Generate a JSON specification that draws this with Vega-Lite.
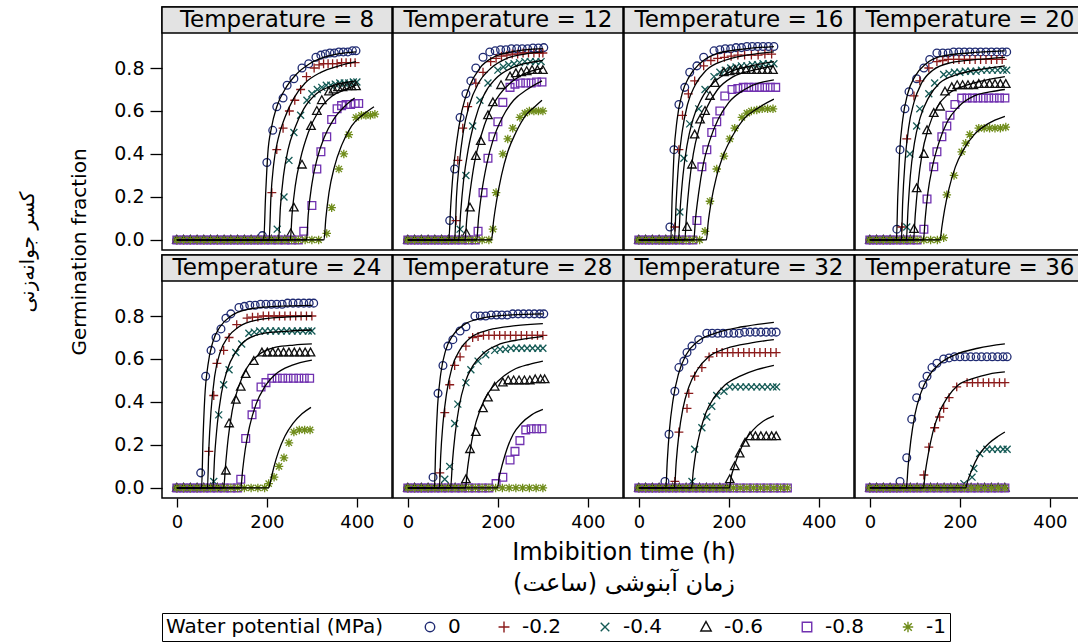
{
"$schema": "https://vega.github.io/schema/vega-lite/v6.json",
"padding": {"left": 18, "top": 5, "right": 0, "bottom": 0},
"background": "white",
"data": {"values": [
{"T":8,"h":"Temperature = 8"},{"T":12,"h":"Temperature = 12"},{"T":16,"h":"Temperature = 16"},{"T":20,"h":"Temperature = 20"},{"T":24,"h":"Temperature = 24"},{"T":28,"h":"Temperature = 28"},{"T":32,"h":"Temperature = 32"},{"T":36,"h":"Temperature = 36"},

{"T":8,"w":0,"t":0,"g":0},{"T":8,"w":0,"t":15,"g":0},{"T":8,"w":0,"t":30,"g":0},{"T":8,"w":0,"t":45,"g":0},{"T":8,"w":0,"t":60,"g":0},{"T":8,"w":0,"t":75,"g":0},{"T":8,"w":0,"t":90,"g":0},{"T":8,"w":0,"t":105,"g":0},{"T":8,"w":0,"t":120,"g":0},{"T":8,"w":0,"t":135,"g":0},{"T":8,"w":0,"t":150,"g":0},{"T":8,"w":0,"t":165,"g":0},{"T":8,"w":0,"t":180,"g":0},
{"T":8,"w":0,"t":190,"g":0.02},{"T":8,"w":0,"t":200,"g":0.36},{"T":8,"w":0,"t":213,"g":0.51},{"T":8,"w":0,"t":222,"g":0.62},{"T":8,"w":0,"t":236,"g":0.66},{"T":8,"w":0,"t":245,"g":0.72},{"T":8,"w":0,"t":260,"g":0.75},{"T":8,"w":0,"t":278,"g":0.8},{"T":8,"w":0,"t":293,"g":0.82},{"T":8,"w":0,"t":309,"g":0.85},{"T":8,"w":0,"t":320,"g":0.86},{"T":8,"w":0,"t":330,"g":0.865},{"T":8,"w":0,"t":340,"g":0.87},{"T":8,"w":0,"t":350,"g":0.87},{"T":8,"w":0,"t":360,"g":0.875},{"T":8,"w":0,"t":370,"g":0.875},{"T":8,"w":0,"t":380,"g":0.875},{"T":8,"w":0,"t":390,"g":0.88},{"T":8,"w":0,"t":398,"g":0.88},
{"T":8,"w":-0.2,"t":0,"g":0},{"T":8,"w":-0.2,"t":15,"g":0},{"T":8,"w":-0.2,"t":30,"g":0},{"T":8,"w":-0.2,"t":45,"g":0},{"T":8,"w":-0.2,"t":60,"g":0},{"T":8,"w":-0.2,"t":75,"g":0},{"T":8,"w":-0.2,"t":90,"g":0},{"T":8,"w":-0.2,"t":105,"g":0},{"T":8,"w":-0.2,"t":120,"g":0},{"T":8,"w":-0.2,"t":135,"g":0},{"T":8,"w":-0.2,"t":150,"g":0},{"T":8,"w":-0.2,"t":165,"g":0},{"T":8,"w":-0.2,"t":180,"g":0},{"T":8,"w":-0.2,"t":195,"g":0},
{"T":8,"w":-0.2,"t":211,"g":0.22},{"T":8,"w":-0.2,"t":222,"g":0.42},{"T":8,"w":-0.2,"t":236,"g":0.52},{"T":8,"w":-0.2,"t":250,"g":0.6},{"T":8,"w":-0.2,"t":262,"g":0.65},{"T":8,"w":-0.2,"t":275,"g":0.7},{"T":8,"w":-0.2,"t":288,"g":0.76},{"T":8,"w":-0.2,"t":305,"g":0.8},{"T":8,"w":-0.2,"t":316,"g":0.815},{"T":8,"w":-0.2,"t":326,"g":0.82},{"T":8,"w":-0.2,"t":336,"g":0.82},{"T":8,"w":-0.2,"t":346,"g":0.82},{"T":8,"w":-0.2,"t":356,"g":0.82},{"T":8,"w":-0.2,"t":366,"g":0.825},{"T":8,"w":-0.2,"t":376,"g":0.825},{"T":8,"w":-0.2,"t":386,"g":0.825},{"T":8,"w":-0.2,"t":396,"g":0.825},
{"T":8,"w":-0.4,"t":0,"g":0},{"T":8,"w":-0.4,"t":15,"g":0},{"T":8,"w":-0.4,"t":30,"g":0},{"T":8,"w":-0.4,"t":45,"g":0},{"T":8,"w":-0.4,"t":60,"g":0},{"T":8,"w":-0.4,"t":75,"g":0},{"T":8,"w":-0.4,"t":90,"g":0},{"T":8,"w":-0.4,"t":105,"g":0},{"T":8,"w":-0.4,"t":120,"g":0},{"T":8,"w":-0.4,"t":135,"g":0},{"T":8,"w":-0.4,"t":150,"g":0},{"T":8,"w":-0.4,"t":165,"g":0},{"T":8,"w":-0.4,"t":180,"g":0},{"T":8,"w":-0.4,"t":195,"g":0},{"T":8,"w":-0.4,"t":210,"g":0},
{"T":8,"w":-0.4,"t":223,"g":0.05},{"T":8,"w":-0.4,"t":238,"g":0.2},{"T":8,"w":-0.4,"t":249,"g":0.37},{"T":8,"w":-0.4,"t":260,"g":0.5},{"T":8,"w":-0.4,"t":275,"g":0.58},{"T":8,"w":-0.4,"t":289,"g":0.65},{"T":8,"w":-0.4,"t":300,"g":0.68},{"T":8,"w":-0.4,"t":312,"g":0.7},{"T":8,"w":-0.4,"t":322,"g":0.71},{"T":8,"w":-0.4,"t":332,"g":0.72},{"T":8,"w":-0.4,"t":342,"g":0.72},{"T":8,"w":-0.4,"t":352,"g":0.725},{"T":8,"w":-0.4,"t":362,"g":0.73},{"T":8,"w":-0.4,"t":372,"g":0.73},{"T":8,"w":-0.4,"t":382,"g":0.73},{"T":8,"w":-0.4,"t":392,"g":0.735},{"T":8,"w":-0.4,"t":400,"g":0.735},
{"T":8,"w":-0.6,"t":0,"g":0},{"T":8,"w":-0.6,"t":15,"g":0},{"T":8,"w":-0.6,"t":30,"g":0},{"T":8,"w":-0.6,"t":45,"g":0},{"T":8,"w":-0.6,"t":60,"g":0},{"T":8,"w":-0.6,"t":75,"g":0},{"T":8,"w":-0.6,"t":90,"g":0},{"T":8,"w":-0.6,"t":105,"g":0},{"T":8,"w":-0.6,"t":120,"g":0},{"T":8,"w":-0.6,"t":135,"g":0},{"T":8,"w":-0.6,"t":150,"g":0},{"T":8,"w":-0.6,"t":165,"g":0},{"T":8,"w":-0.6,"t":180,"g":0},{"T":8,"w":-0.6,"t":195,"g":0},{"T":8,"w":-0.6,"t":210,"g":0},{"T":8,"w":-0.6,"t":225,"g":0},{"T":8,"w":-0.6,"t":240,"g":0},
{"T":8,"w":-0.6,"t":253,"g":0.03},{"T":8,"w":-0.6,"t":260,"g":0.15},{"T":8,"w":-0.6,"t":278,"g":0.35},{"T":8,"w":-0.6,"t":298,"g":0.53},{"T":8,"w":-0.6,"t":311,"g":0.6},{"T":8,"w":-0.6,"t":322,"g":0.65},{"T":8,"w":-0.6,"t":338,"g":0.69},{"T":8,"w":-0.6,"t":348,"g":0.7},{"T":8,"w":-0.6,"t":358,"g":0.71},{"T":8,"w":-0.6,"t":368,"g":0.71},{"T":8,"w":-0.6,"t":378,"g":0.715},{"T":8,"w":-0.6,"t":388,"g":0.715},{"T":8,"w":-0.6,"t":398,"g":0.715},
{"T":8,"w":-0.8,"t":0,"g":0},{"T":8,"w":-0.8,"t":15,"g":0},{"T":8,"w":-0.8,"t":30,"g":0},{"T":8,"w":-0.8,"t":45,"g":0},{"T":8,"w":-0.8,"t":60,"g":0},{"T":8,"w":-0.8,"t":75,"g":0},{"T":8,"w":-0.8,"t":90,"g":0},{"T":8,"w":-0.8,"t":105,"g":0},{"T":8,"w":-0.8,"t":120,"g":0},{"T":8,"w":-0.8,"t":135,"g":0},{"T":8,"w":-0.8,"t":150,"g":0},{"T":8,"w":-0.8,"t":165,"g":0},{"T":8,"w":-0.8,"t":180,"g":0},{"T":8,"w":-0.8,"t":195,"g":0},{"T":8,"w":-0.8,"t":210,"g":0},{"T":8,"w":-0.8,"t":225,"g":0},{"T":8,"w":-0.8,"t":240,"g":0},{"T":8,"w":-0.8,"t":255,"g":0},{"T":8,"w":-0.8,"t":270,"g":0},
{"T":8,"w":-0.8,"t":282,"g":0.04},{"T":8,"w":-0.8,"t":300,"g":0.16},{"T":8,"w":-0.8,"t":311,"g":0.33},{"T":8,"w":-0.8,"t":320,"g":0.41},{"T":8,"w":-0.8,"t":333,"g":0.48},{"T":8,"w":-0.8,"t":344,"g":0.56},{"T":8,"w":-0.8,"t":356,"g":0.61},{"T":8,"w":-0.8,"t":366,"g":0.625},{"T":8,"w":-0.8,"t":376,"g":0.63},{"T":8,"w":-0.8,"t":386,"g":0.63},{"T":8,"w":-0.8,"t":396,"g":0.635},{"T":8,"w":-0.8,"t":404,"g":0.635},
{"T":8,"w":-1,"t":0,"g":0},{"T":8,"w":-1,"t":15,"g":0},{"T":8,"w":-1,"t":30,"g":0},{"T":8,"w":-1,"t":45,"g":0},{"T":8,"w":-1,"t":60,"g":0},{"T":8,"w":-1,"t":75,"g":0},{"T":8,"w":-1,"t":90,"g":0},{"T":8,"w":-1,"t":105,"g":0},{"T":8,"w":-1,"t":120,"g":0},{"T":8,"w":-1,"t":135,"g":0},{"T":8,"w":-1,"t":150,"g":0},{"T":8,"w":-1,"t":165,"g":0},{"T":8,"w":-1,"t":180,"g":0},{"T":8,"w":-1,"t":195,"g":0},{"T":8,"w":-1,"t":210,"g":0},{"T":8,"w":-1,"t":225,"g":0},{"T":8,"w":-1,"t":240,"g":0},{"T":8,"w":-1,"t":255,"g":0},{"T":8,"w":-1,"t":270,"g":0},{"T":8,"w":-1,"t":285,"g":0},{"T":8,"w":-1,"t":300,"g":0},{"T":8,"w":-1,"t":315,"g":0},
{"T":8,"w":-1,"t":333,"g":0.03},{"T":8,"w":-1,"t":344,"g":0.15},{"T":8,"w":-1,"t":360,"g":0.33},{"T":8,"w":-1,"t":371,"g":0.4},{"T":8,"w":-1,"t":382,"g":0.49},{"T":8,"w":-1,"t":398,"g":0.57},{"T":8,"w":-1,"t":410,"g":0.58},{"T":8,"w":-1,"t":420,"g":0.58},{"T":8,"w":-1,"t":430,"g":0.58},{"T":8,"w":-1,"t":440,"g":0.585},

{"T":8,"w":0,"t":0,"c":0},{"T":8,"w":0,"t":193,"c":0},{"T":8,"w":0,"t":197,"c":0.2},{"T":8,"w":0,"t":202,"c":0.4},{"T":8,"w":0,"t":210,"c":0.52},{"T":8,"w":0,"t":222,"c":0.62},{"T":8,"w":0,"t":240,"c":0.7},{"T":8,"w":0,"t":265,"c":0.77},{"T":8,"w":0,"t":295,"c":0.82},{"T":8,"w":0,"t":335,"c":0.855},{"T":8,"w":0,"t":398,"c":0.875},
{"T":8,"w":-0.2,"t":0,"c":0},{"T":8,"w":-0.2,"t":205,"c":0},{"T":8,"w":-0.2,"t":209,"c":0.2},{"T":8,"w":-0.2,"t":215,"c":0.35},{"T":8,"w":-0.2,"t":225,"c":0.47},{"T":8,"w":-0.2,"t":240,"c":0.57},{"T":8,"w":-0.2,"t":260,"c":0.66},{"T":8,"w":-0.2,"t":285,"c":0.73},{"T":8,"w":-0.2,"t":320,"c":0.78},{"T":8,"w":-0.2,"t":360,"c":0.81},{"T":8,"w":-0.2,"t":398,"c":0.83},
{"T":8,"w":-0.4,"t":0,"c":0},{"T":8,"w":-0.4,"t":226,"c":0},{"T":8,"w":-0.4,"t":230,"c":0.15},{"T":8,"w":-0.4,"t":237,"c":0.3},{"T":8,"w":-0.4,"t":247,"c":0.42},{"T":8,"w":-0.4,"t":262,"c":0.52},{"T":8,"w":-0.4,"t":282,"c":0.61},{"T":8,"w":-0.4,"t":310,"c":0.68},{"T":8,"w":-0.4,"t":350,"c":0.72},{"T":8,"w":-0.4,"t":398,"c":0.74},
{"T":8,"w":-0.6,"t":0,"c":0},{"T":8,"w":-0.6,"t":252,"c":0},{"T":8,"w":-0.6,"t":256,"c":0.12},{"T":8,"w":-0.6,"t":263,"c":0.25},{"T":8,"w":-0.6,"t":275,"c":0.38},{"T":8,"w":-0.6,"t":292,"c":0.5},{"T":8,"w":-0.6,"t":315,"c":0.6},{"T":8,"w":-0.6,"t":345,"c":0.67},{"T":8,"w":-0.6,"t":375,"c":0.7},{"T":8,"w":-0.6,"t":398,"c":0.72},
{"T":8,"w":-0.8,"t":0,"c":0},{"T":8,"w":-0.8,"t":288,"c":0},{"T":8,"w":-0.8,"t":292,"c":0.12},{"T":8,"w":-0.8,"t":300,"c":0.26},{"T":8,"w":-0.8,"t":312,"c":0.38},{"T":8,"w":-0.8,"t":328,"c":0.48},{"T":8,"w":-0.8,"t":348,"c":0.56},{"T":8,"w":-0.8,"t":372,"c":0.62},{"T":8,"w":-0.8,"t":395,"c":0.66},
{"T":8,"w":-1,"t":0,"c":0},{"T":8,"w":-1,"t":327,"c":0},{"T":8,"w":-1,"t":331,"c":0.1},{"T":8,"w":-1,"t":338,"c":0.22},{"T":8,"w":-1,"t":350,"c":0.34},{"T":8,"w":-1,"t":366,"c":0.44},{"T":8,"w":-1,"t":388,"c":0.53},{"T":8,"w":-1,"t":412,"c":0.58},{"T":8,"w":-1,"t":438,"c":0.62},

{"T":12,"w":0,"t":0,"g":0},{"T":12,"w":0,"t":15,"g":0},{"T":12,"w":0,"t":30,"g":0},{"T":12,"w":0,"t":45,"g":0},{"T":12,"w":0,"t":60,"g":0},{"T":12,"w":0,"t":75,"g":0},{"T":12,"w":0,"t":90,"g":0},
{"T":12,"w":0,"t":93,"g":0.09},{"T":12,"w":0,"t":104,"g":0.33},{"T":12,"w":0,"t":116,"g":0.57},{"T":12,"w":0,"t":129,"g":0.68},{"T":12,"w":0,"t":140,"g":0.74},{"T":12,"w":0,"t":151,"g":0.8},{"T":12,"w":0,"t":167,"g":0.85},{"T":12,"w":0,"t":182,"g":0.875},{"T":12,"w":0,"t":194,"g":0.88},{"T":12,"w":0,"t":206,"g":0.885},{"T":12,"w":0,"t":218,"g":0.885},{"T":12,"w":0,"t":230,"g":0.89},{"T":12,"w":0,"t":242,"g":0.89},{"T":12,"w":0,"t":254,"g":0.89},{"T":12,"w":0,"t":266,"g":0.89},{"T":12,"w":0,"t":278,"g":0.893},{"T":12,"w":0,"t":290,"g":0.893},{"T":12,"w":0,"t":302,"g":0.895},
{"T":12,"w":-0.2,"t":0,"g":0},{"T":12,"w":-0.2,"t":15,"g":0},{"T":12,"w":-0.2,"t":30,"g":0},{"T":12,"w":-0.2,"t":45,"g":0},{"T":12,"w":-0.2,"t":60,"g":0},{"T":12,"w":-0.2,"t":75,"g":0},{"T":12,"w":-0.2,"t":90,"g":0},{"T":12,"w":-0.2,"t":105,"g":0},
{"T":12,"w":-0.2,"t":107,"g":0.09},{"T":12,"w":-0.2,"t":111,"g":0.37},{"T":12,"w":-0.2,"t":122,"g":0.52},{"T":12,"w":-0.2,"t":133,"g":0.62},{"T":12,"w":-0.2,"t":151,"g":0.73},{"T":12,"w":-0.2,"t":167,"g":0.78},{"T":12,"w":-0.2,"t":184,"g":0.83},{"T":12,"w":-0.2,"t":196,"g":0.845},{"T":12,"w":-0.2,"t":208,"g":0.855},{"T":12,"w":-0.2,"t":220,"g":0.86},{"T":12,"w":-0.2,"t":232,"g":0.865},{"T":12,"w":-0.2,"t":244,"g":0.865},{"T":12,"w":-0.2,"t":256,"g":0.87},{"T":12,"w":-0.2,"t":268,"g":0.87},{"T":12,"w":-0.2,"t":280,"g":0.87},{"T":12,"w":-0.2,"t":292,"g":0.87},{"T":12,"w":-0.2,"t":300,"g":0.87},
{"T":12,"w":-0.4,"t":0,"g":0},{"T":12,"w":-0.4,"t":15,"g":0},{"T":12,"w":-0.4,"t":30,"g":0},{"T":12,"w":-0.4,"t":45,"g":0},{"T":12,"w":-0.4,"t":60,"g":0},{"T":12,"w":-0.4,"t":75,"g":0},{"T":12,"w":-0.4,"t":90,"g":0},{"T":12,"w":-0.4,"t":105,"g":0},
{"T":12,"w":-0.4,"t":116,"g":0.05},{"T":12,"w":-0.4,"t":129,"g":0.3},{"T":12,"w":-0.4,"t":144,"g":0.53},{"T":12,"w":-0.4,"t":160,"g":0.65},{"T":12,"w":-0.4,"t":178,"g":0.73},{"T":12,"w":-0.4,"t":200,"g":0.79},{"T":12,"w":-0.4,"t":212,"g":0.805},{"T":12,"w":-0.4,"t":224,"g":0.815},{"T":12,"w":-0.4,"t":236,"g":0.82},{"T":12,"w":-0.4,"t":248,"g":0.825},{"T":12,"w":-0.4,"t":260,"g":0.83},{"T":12,"w":-0.4,"t":272,"g":0.83},{"T":12,"w":-0.4,"t":284,"g":0.83},{"T":12,"w":-0.4,"t":296,"g":0.83},
{"T":12,"w":-0.6,"t":0,"g":0},{"T":12,"w":-0.6,"t":15,"g":0},{"T":12,"w":-0.6,"t":30,"g":0},{"T":12,"w":-0.6,"t":45,"g":0},{"T":12,"w":-0.6,"t":60,"g":0},{"T":12,"w":-0.6,"t":75,"g":0},{"T":12,"w":-0.6,"t":90,"g":0},{"T":12,"w":-0.6,"t":105,"g":0},{"T":12,"w":-0.6,"t":120,"g":0},{"T":12,"w":-0.6,"t":130,"g":0.03},
{"T":12,"w":-0.6,"t":138,"g":0.15},{"T":12,"w":-0.6,"t":151,"g":0.39},{"T":12,"w":-0.6,"t":162,"g":0.46},{"T":12,"w":-0.6,"t":178,"g":0.58},{"T":12,"w":-0.6,"t":189,"g":0.64},{"T":12,"w":-0.6,"t":207,"g":0.72},{"T":12,"w":-0.6,"t":227,"g":0.76},{"T":12,"w":-0.6,"t":240,"g":0.775},{"T":12,"w":-0.6,"t":252,"g":0.78},{"T":12,"w":-0.6,"t":264,"g":0.785},{"T":12,"w":-0.6,"t":276,"g":0.79},{"T":12,"w":-0.6,"t":288,"g":0.79},{"T":12,"w":-0.6,"t":300,"g":0.79},
{"T":12,"w":-0.8,"t":0,"g":0},{"T":12,"w":-0.8,"t":15,"g":0},{"T":12,"w":-0.8,"t":30,"g":0},{"T":12,"w":-0.8,"t":45,"g":0},{"T":12,"w":-0.8,"t":60,"g":0},{"T":12,"w":-0.8,"t":75,"g":0},{"T":12,"w":-0.8,"t":90,"g":0},{"T":12,"w":-0.8,"t":105,"g":0},{"T":12,"w":-0.8,"t":120,"g":0},{"T":12,"w":-0.8,"t":135,"g":0},{"T":12,"w":-0.8,"t":150,"g":0},
{"T":12,"w":-0.8,"t":156,"g":0.04},{"T":12,"w":-0.8,"t":167,"g":0.22},{"T":12,"w":-0.8,"t":178,"g":0.38},{"T":12,"w":-0.8,"t":189,"g":0.48},{"T":12,"w":-0.8,"t":200,"g":0.55},{"T":12,"w":-0.8,"t":211,"g":0.64},{"T":12,"w":-0.8,"t":227,"g":0.71},{"T":12,"w":-0.8,"t":238,"g":0.725},{"T":12,"w":-0.8,"t":250,"g":0.73},{"T":12,"w":-0.8,"t":262,"g":0.73},{"T":12,"w":-0.8,"t":274,"g":0.73},{"T":12,"w":-0.8,"t":286,"g":0.735},{"T":12,"w":-0.8,"t":298,"g":0.735},
{"T":12,"w":-1,"t":0,"g":0},{"T":12,"w":-1,"t":15,"g":0},{"T":12,"w":-1,"t":30,"g":0},{"T":12,"w":-1,"t":45,"g":0},{"T":12,"w":-1,"t":60,"g":0},{"T":12,"w":-1,"t":75,"g":0},{"T":12,"w":-1,"t":90,"g":0},{"T":12,"w":-1,"t":105,"g":0},{"T":12,"w":-1,"t":120,"g":0},{"T":12,"w":-1,"t":135,"g":0},{"T":12,"w":-1,"t":150,"g":0},{"T":12,"w":-1,"t":165,"g":0},{"T":12,"w":-1,"t":180,"g":0},
{"T":12,"w":-1,"t":189,"g":0.05},{"T":12,"w":-1,"t":196,"g":0.22},{"T":12,"w":-1,"t":211,"g":0.4},{"T":12,"w":-1,"t":222,"g":0.47},{"T":12,"w":-1,"t":233,"g":0.52},{"T":12,"w":-1,"t":249,"g":0.57},{"T":12,"w":-1,"t":260,"g":0.59},{"T":12,"w":-1,"t":270,"g":0.6},{"T":12,"w":-1,"t":280,"g":0.6},{"T":12,"w":-1,"t":290,"g":0.6},{"T":12,"w":-1,"t":300,"g":0.6},

{"T":12,"w":0,"t":0,"c":0},{"T":12,"w":0,"t":91,"c":0},{"T":12,"w":0,"t":95,"c":0.15},{"T":12,"w":0,"t":100,"c":0.3},{"T":12,"w":0,"t":108,"c":0.45},{"T":12,"w":0,"t":120,"c":0.6},{"T":12,"w":0,"t":138,"c":0.72},{"T":12,"w":0,"t":160,"c":0.8},{"T":12,"w":0,"t":190,"c":0.85},{"T":12,"w":0,"t":230,"c":0.875},{"T":12,"w":0,"t":300,"c":0.89},
{"T":12,"w":-0.2,"t":0,"c":0},{"T":12,"w":-0.2,"t":104,"c":0},{"T":12,"w":-0.2,"t":108,"c":0.2},{"T":12,"w":-0.2,"t":114,"c":0.35},{"T":12,"w":-0.2,"t":123,"c":0.5},{"T":12,"w":-0.2,"t":137,"c":0.63},{"T":12,"w":-0.2,"t":157,"c":0.73},{"T":12,"w":-0.2,"t":185,"c":0.8},{"T":12,"w":-0.2,"t":220,"c":0.845},{"T":12,"w":-0.2,"t":260,"c":0.865},{"T":12,"w":-0.2,"t":300,"c":0.875},
{"T":12,"w":-0.4,"t":0,"c":0},{"T":12,"w":-0.4,"t":113,"c":0},{"T":12,"w":-0.4,"t":117,"c":0.12},{"T":12,"w":-0.4,"t":124,"c":0.28},{"T":12,"w":-0.4,"t":134,"c":0.42},{"T":12,"w":-0.4,"t":148,"c":0.55},{"T":12,"w":-0.4,"t":168,"c":0.67},{"T":12,"w":-0.4,"t":195,"c":0.75},{"T":12,"w":-0.4,"t":230,"c":0.8},{"T":12,"w":-0.4,"t":300,"c":0.835},
{"T":12,"w":-0.6,"t":0,"c":0},{"T":12,"w":-0.6,"t":127,"c":0},{"T":12,"w":-0.6,"t":131,"c":0.1},{"T":12,"w":-0.6,"t":138,"c":0.22},{"T":12,"w":-0.6,"t":148,"c":0.36},{"T":12,"w":-0.6,"t":162,"c":0.48},{"T":12,"w":-0.6,"t":180,"c":0.59},{"T":12,"w":-0.6,"t":205,"c":0.68},{"T":12,"w":-0.6,"t":240,"c":0.75},{"T":12,"w":-0.6,"t":300,"c":0.8},
{"T":12,"w":-0.8,"t":0,"c":0},{"T":12,"w":-0.8,"t":153,"c":0},{"T":12,"w":-0.8,"t":157,"c":0.1},{"T":12,"w":-0.8,"t":164,"c":0.22},{"T":12,"w":-0.8,"t":175,"c":0.35},{"T":12,"w":-0.8,"t":190,"c":0.47},{"T":12,"w":-0.8,"t":210,"c":0.57},{"T":12,"w":-0.8,"t":235,"c":0.65},{"T":12,"w":-0.8,"t":265,"c":0.7},{"T":12,"w":-0.8,"t":298,"c":0.74},
{"T":12,"w":-1,"t":0,"c":0},{"T":12,"w":-1,"t":186,"c":0},{"T":12,"w":-1,"t":190,"c":0.08},{"T":12,"w":-1,"t":197,"c":0.18},{"T":12,"w":-1,"t":208,"c":0.3},{"T":12,"w":-1,"t":222,"c":0.41},{"T":12,"w":-1,"t":240,"c":0.5},{"T":12,"w":-1,"t":262,"c":0.58},{"T":12,"w":-1,"t":282,"c":0.62},{"T":12,"w":-1,"t":298,"c":0.65},

{"T":16,"w":0,"t":0,"g":0},{"T":16,"w":0,"t":15,"g":0},{"T":16,"w":0,"t":30,"g":0},{"T":16,"w":0,"t":45,"g":0},{"T":16,"w":0,"t":60,"g":0},
{"T":16,"w":0,"t":69,"g":0.06},{"T":16,"w":0,"t":78,"g":0.42},{"T":16,"w":0,"t":89,"g":0.63},{"T":16,"w":0,"t":102,"g":0.71},{"T":16,"w":0,"t":113,"g":0.78},{"T":16,"w":0,"t":129,"g":0.81},{"T":16,"w":0,"t":144,"g":0.85},{"T":16,"w":0,"t":167,"g":0.88},{"T":16,"w":0,"t":180,"g":0.885},{"T":16,"w":0,"t":192,"g":0.89},{"T":16,"w":0,"t":204,"g":0.89},{"T":16,"w":0,"t":216,"g":0.895},{"T":16,"w":0,"t":228,"g":0.895},{"T":16,"w":0,"t":240,"g":0.9},{"T":16,"w":0,"t":252,"g":0.9},{"T":16,"w":0,"t":264,"g":0.9},{"T":16,"w":0,"t":276,"g":0.9},{"T":16,"w":0,"t":288,"g":0.9},{"T":16,"w":0,"t":300,"g":0.9},
{"T":16,"w":-0.2,"t":0,"g":0},{"T":16,"w":-0.2,"t":15,"g":0},{"T":16,"w":-0.2,"t":30,"g":0},{"T":16,"w":-0.2,"t":45,"g":0},{"T":16,"w":-0.2,"t":60,"g":0},{"T":16,"w":-0.2,"t":75,"g":0},
{"T":16,"w":-0.2,"t":80,"g":0.06},{"T":16,"w":-0.2,"t":89,"g":0.42},{"T":16,"w":-0.2,"t":97,"g":0.58},{"T":16,"w":-0.2,"t":110,"g":0.68},{"T":16,"w":-0.2,"t":124,"g":0.74},{"T":16,"w":-0.2,"t":144,"g":0.81},{"T":16,"w":-0.2,"t":160,"g":0.835},{"T":16,"w":-0.2,"t":175,"g":0.845},{"T":16,"w":-0.2,"t":190,"g":0.85},{"T":16,"w":-0.2,"t":205,"g":0.855},{"T":16,"w":-0.2,"t":220,"g":0.86},{"T":16,"w":-0.2,"t":235,"g":0.86},{"T":16,"w":-0.2,"t":250,"g":0.86},{"T":16,"w":-0.2,"t":265,"g":0.86},{"T":16,"w":-0.2,"t":280,"g":0.865},{"T":16,"w":-0.2,"t":295,"g":0.865},
{"T":16,"w":-0.4,"t":0,"g":0},{"T":16,"w":-0.4,"t":15,"g":0},{"T":16,"w":-0.4,"t":30,"g":0},{"T":16,"w":-0.4,"t":45,"g":0},{"T":16,"w":-0.4,"t":60,"g":0},{"T":16,"w":-0.4,"t":75,"g":0},
{"T":16,"w":-0.4,"t":91,"g":0.13},{"T":16,"w":-0.4,"t":100,"g":0.38},{"T":16,"w":-0.4,"t":113,"g":0.54},{"T":16,"w":-0.4,"t":133,"g":0.61},{"T":16,"w":-0.4,"t":147,"g":0.7},{"T":16,"w":-0.4,"t":167,"g":0.76},{"T":16,"w":-0.4,"t":180,"g":0.78},{"T":16,"w":-0.4,"t":192,"g":0.79},{"T":16,"w":-0.4,"t":204,"g":0.8},{"T":16,"w":-0.4,"t":216,"g":0.805},{"T":16,"w":-0.4,"t":228,"g":0.81},{"T":16,"w":-0.4,"t":240,"g":0.81},{"T":16,"w":-0.4,"t":252,"g":0.815},{"T":16,"w":-0.4,"t":264,"g":0.815},{"T":16,"w":-0.4,"t":276,"g":0.82},{"T":16,"w":-0.4,"t":288,"g":0.82},{"T":16,"w":-0.4,"t":300,"g":0.82},
{"T":16,"w":-0.6,"t":0,"g":0},{"T":16,"w":-0.6,"t":15,"g":0},{"T":16,"w":-0.6,"t":30,"g":0},{"T":16,"w":-0.6,"t":45,"g":0},{"T":16,"w":-0.6,"t":60,"g":0},{"T":16,"w":-0.6,"t":75,"g":0},{"T":16,"w":-0.6,"t":90,"g":0},
{"T":16,"w":-0.6,"t":107,"g":0.06},{"T":16,"w":-0.6,"t":118,"g":0.35},{"T":16,"w":-0.6,"t":124,"g":0.49},{"T":16,"w":-0.6,"t":136,"g":0.56},{"T":16,"w":-0.6,"t":147,"g":0.6},{"T":16,"w":-0.6,"t":158,"g":0.67},{"T":16,"w":-0.6,"t":169,"g":0.73},{"T":16,"w":-0.6,"t":189,"g":0.78},{"T":16,"w":-0.6,"t":202,"g":0.785},{"T":16,"w":-0.6,"t":214,"g":0.79},{"T":16,"w":-0.6,"t":226,"g":0.79},{"T":16,"w":-0.6,"t":238,"g":0.79},{"T":16,"w":-0.6,"t":250,"g":0.79},{"T":16,"w":-0.6,"t":262,"g":0.79},{"T":16,"w":-0.6,"t":274,"g":0.79},{"T":16,"w":-0.6,"t":286,"g":0.79},{"T":16,"w":-0.6,"t":298,"g":0.79},
{"T":16,"w":-0.8,"t":0,"g":0},{"T":16,"w":-0.8,"t":15,"g":0},{"T":16,"w":-0.8,"t":30,"g":0},{"T":16,"w":-0.8,"t":45,"g":0},{"T":16,"w":-0.8,"t":60,"g":0},{"T":16,"w":-0.8,"t":75,"g":0},{"T":16,"w":-0.8,"t":90,"g":0},{"T":16,"w":-0.8,"t":105,"g":0},{"T":16,"w":-0.8,"t":120,"g":0},
{"T":16,"w":-0.8,"t":129,"g":0.09},{"T":16,"w":-0.8,"t":140,"g":0.34},{"T":16,"w":-0.8,"t":151,"g":0.42},{"T":16,"w":-0.8,"t":162,"g":0.5},{"T":16,"w":-0.8,"t":173,"g":0.55},{"T":16,"w":-0.8,"t":180,"g":0.6},{"T":16,"w":-0.8,"t":191,"g":0.67},{"T":16,"w":-0.8,"t":207,"g":0.7},{"T":16,"w":-0.8,"t":220,"g":0.705},{"T":16,"w":-0.8,"t":232,"g":0.71},{"T":16,"w":-0.8,"t":244,"g":0.71},{"T":16,"w":-0.8,"t":256,"g":0.71},{"T":16,"w":-0.8,"t":268,"g":0.71},{"T":16,"w":-0.8,"t":280,"g":0.71},{"T":16,"w":-0.8,"t":292,"g":0.71},{"T":16,"w":-0.8,"t":304,"g":0.71},
{"T":16,"w":-1,"t":0,"g":0},{"T":16,"w":-1,"t":15,"g":0},{"T":16,"w":-1,"t":30,"g":0},{"T":16,"w":-1,"t":45,"g":0},{"T":16,"w":-1,"t":60,"g":0},{"T":16,"w":-1,"t":75,"g":0},{"T":16,"w":-1,"t":90,"g":0},{"T":16,"w":-1,"t":105,"g":0},{"T":16,"w":-1,"t":120,"g":0},{"T":16,"w":-1,"t":135,"g":0},
{"T":16,"w":-1,"t":147,"g":0.04},{"T":16,"w":-1,"t":158,"g":0.18},{"T":16,"w":-1,"t":173,"g":0.33},{"T":16,"w":-1,"t":189,"g":0.39},{"T":16,"w":-1,"t":202,"g":0.47},{"T":16,"w":-1,"t":213,"g":0.52},{"T":16,"w":-1,"t":229,"g":0.57},{"T":16,"w":-1,"t":240,"g":0.59},{"T":16,"w":-1,"t":250,"g":0.6},{"T":16,"w":-1,"t":262,"g":0.605},{"T":16,"w":-1,"t":274,"g":0.61},{"T":16,"w":-1,"t":286,"g":0.61},{"T":16,"w":-1,"t":298,"g":0.61},

{"T":16,"w":0,"t":0,"c":0},{"T":16,"w":0,"t":71,"c":0},{"T":16,"w":0,"t":74,"c":0.2},{"T":16,"w":0,"t":78,"c":0.4},{"T":16,"w":0,"t":85,"c":0.56},{"T":16,"w":0,"t":96,"c":0.68},{"T":16,"w":0,"t":112,"c":0.76},{"T":16,"w":0,"t":135,"c":0.82},{"T":16,"w":0,"t":170,"c":0.865},{"T":16,"w":0,"t":220,"c":0.885},{"T":16,"w":0,"t":300,"c":0.9},
{"T":16,"w":-0.2,"t":0,"c":0},{"T":16,"w":-0.2,"t":79,"c":0},{"T":16,"w":-0.2,"t":83,"c":0.18},{"T":16,"w":-0.2,"t":88,"c":0.35},{"T":16,"w":-0.2,"t":96,"c":0.5},{"T":16,"w":-0.2,"t":108,"c":0.63},{"T":16,"w":-0.2,"t":125,"c":0.72},{"T":16,"w":-0.2,"t":150,"c":0.79},{"T":16,"w":-0.2,"t":190,"c":0.835},{"T":16,"w":-0.2,"t":240,"c":0.86},{"T":16,"w":-0.2,"t":300,"c":0.875},
{"T":16,"w":-0.4,"t":0,"c":0},{"T":16,"w":-0.4,"t":88,"c":0},{"T":16,"w":-0.4,"t":92,"c":0.15},{"T":16,"w":-0.4,"t":98,"c":0.3},{"T":16,"w":-0.4,"t":107,"c":0.44},{"T":16,"w":-0.4,"t":120,"c":0.56},{"T":16,"w":-0.4,"t":140,"c":0.66},{"T":16,"w":-0.4,"t":165,"c":0.73},{"T":16,"w":-0.4,"t":200,"c":0.78},{"T":16,"w":-0.4,"t":250,"c":0.81},{"T":16,"w":-0.4,"t":300,"c":0.83},
{"T":16,"w":-0.6,"t":0,"c":0},{"T":16,"w":-0.6,"t":102,"c":0},{"T":16,"w":-0.6,"t":106,"c":0.12},{"T":16,"w":-0.6,"t":112,"c":0.26},{"T":16,"w":-0.6,"t":121,"c":0.4},{"T":16,"w":-0.6,"t":134,"c":0.52},{"T":16,"w":-0.6,"t":152,"c":0.62},{"T":16,"w":-0.6,"t":175,"c":0.7},{"T":16,"w":-0.6,"t":210,"c":0.76},{"T":16,"w":-0.6,"t":255,"c":0.79},{"T":16,"w":-0.6,"t":300,"c":0.81},
{"T":16,"w":-0.8,"t":0,"c":0},{"T":16,"w":-0.8,"t":122,"c":0},{"T":16,"w":-0.8,"t":126,"c":0.1},{"T":16,"w":-0.8,"t":133,"c":0.22},{"T":16,"w":-0.8,"t":143,"c":0.35},{"T":16,"w":-0.8,"t":157,"c":0.46},{"T":16,"w":-0.8,"t":176,"c":0.56},{"T":16,"w":-0.8,"t":200,"c":0.64},{"T":16,"w":-0.8,"t":235,"c":0.7},{"T":16,"w":-0.8,"t":300,"c":0.745},
{"T":16,"w":-1,"t":0,"c":0},{"T":16,"w":-1,"t":150,"c":0},{"T":16,"w":-1,"t":154,"c":0.08},{"T":16,"w":-1,"t":161,"c":0.18},{"T":16,"w":-1,"t":172,"c":0.29},{"T":16,"w":-1,"t":187,"c":0.39},{"T":16,"w":-1,"t":207,"c":0.48},{"T":16,"w":-1,"t":232,"c":0.56},{"T":16,"w":-1,"t":262,"c":0.61},{"T":16,"w":-1,"t":300,"c":0.655},

{"T":20,"w":0,"t":0,"g":0},{"T":20,"w":0,"t":15,"g":0},{"T":20,"w":0,"t":30,"g":0},{"T":20,"w":0,"t":45,"g":0},
{"T":20,"w":0,"t":60,"g":0.05},{"T":20,"w":0,"t":67,"g":0.42},{"T":20,"w":0,"t":78,"g":0.61},{"T":20,"w":0,"t":87,"g":0.69},{"T":20,"w":0,"t":104,"g":0.75},{"T":20,"w":0,"t":120,"g":0.8},{"T":20,"w":0,"t":133,"g":0.84},{"T":20,"w":0,"t":149,"g":0.87},{"T":20,"w":0,"t":162,"g":0.87},{"T":20,"w":0,"t":174,"g":0.87},{"T":20,"w":0,"t":186,"g":0.875},{"T":20,"w":0,"t":198,"g":0.875},{"T":20,"w":0,"t":210,"g":0.875},{"T":20,"w":0,"t":222,"g":0.875},{"T":20,"w":0,"t":234,"g":0.875},{"T":20,"w":0,"t":246,"g":0.875},{"T":20,"w":0,"t":258,"g":0.875},{"T":20,"w":0,"t":270,"g":0.875},{"T":20,"w":0,"t":282,"g":0.875},{"T":20,"w":0,"t":294,"g":0.875},{"T":20,"w":0,"t":304,"g":0.875},
{"T":20,"w":-0.2,"t":0,"g":0},{"T":20,"w":-0.2,"t":15,"g":0},{"T":20,"w":-0.2,"t":30,"g":0},{"T":20,"w":-0.2,"t":45,"g":0},{"T":20,"w":-0.2,"t":60,"g":0},
{"T":20,"w":-0.2,"t":71,"g":0.06},{"T":20,"w":-0.2,"t":82,"g":0.47},{"T":20,"w":-0.2,"t":98,"g":0.67},{"T":20,"w":-0.2,"t":111,"g":0.74},{"T":20,"w":-0.2,"t":131,"g":0.8},{"T":20,"w":-0.2,"t":149,"g":0.83},{"T":20,"w":-0.2,"t":162,"g":0.835},{"T":20,"w":-0.2,"t":174,"g":0.84},{"T":20,"w":-0.2,"t":186,"g":0.84},{"T":20,"w":-0.2,"t":198,"g":0.84},{"T":20,"w":-0.2,"t":210,"g":0.84},{"T":20,"w":-0.2,"t":222,"g":0.84},{"T":20,"w":-0.2,"t":234,"g":0.84},{"T":20,"w":-0.2,"t":246,"g":0.84},{"T":20,"w":-0.2,"t":258,"g":0.84},{"T":20,"w":-0.2,"t":270,"g":0.84},{"T":20,"w":-0.2,"t":282,"g":0.84},{"T":20,"w":-0.2,"t":294,"g":0.84},
{"T":20,"w":-0.4,"t":0,"g":0},{"T":20,"w":-0.4,"t":15,"g":0},{"T":20,"w":-0.4,"t":30,"g":0},{"T":20,"w":-0.4,"t":45,"g":0},{"T":20,"w":-0.4,"t":60,"g":0},{"T":20,"w":-0.4,"t":75,"g":0},
{"T":20,"w":-0.4,"t":82,"g":0.06},{"T":20,"w":-0.4,"t":89,"g":0.4},{"T":20,"w":-0.4,"t":104,"g":0.53},{"T":20,"w":-0.4,"t":111,"g":0.61},{"T":20,"w":-0.4,"t":131,"g":0.68},{"T":20,"w":-0.4,"t":144,"g":0.73},{"T":20,"w":-0.4,"t":164,"g":0.77},{"T":20,"w":-0.4,"t":176,"g":0.775},{"T":20,"w":-0.4,"t":188,"g":0.78},{"T":20,"w":-0.4,"t":200,"g":0.78},{"T":20,"w":-0.4,"t":212,"g":0.785},{"T":20,"w":-0.4,"t":224,"g":0.785},{"T":20,"w":-0.4,"t":236,"g":0.785},{"T":20,"w":-0.4,"t":248,"g":0.79},{"T":20,"w":-0.4,"t":260,"g":0.79},{"T":20,"w":-0.4,"t":272,"g":0.79},{"T":20,"w":-0.4,"t":284,"g":0.79},{"T":20,"w":-0.4,"t":296,"g":0.79},{"T":20,"w":-0.4,"t":304,"g":0.79},
{"T":20,"w":-0.6,"t":0,"g":0},{"T":20,"w":-0.6,"t":15,"g":0},{"T":20,"w":-0.6,"t":30,"g":0},{"T":20,"w":-0.6,"t":45,"g":0},{"T":20,"w":-0.6,"t":60,"g":0},{"T":20,"w":-0.6,"t":75,"g":0},{"T":20,"w":-0.6,"t":90,"g":0},
{"T":20,"w":-0.6,"t":98,"g":0.05},{"T":20,"w":-0.6,"t":104,"g":0.24},{"T":20,"w":-0.6,"t":120,"g":0.4},{"T":20,"w":-0.6,"t":127,"g":0.51},{"T":20,"w":-0.6,"t":142,"g":0.59},{"T":20,"w":-0.6,"t":156,"g":0.62},{"T":20,"w":-0.6,"t":167,"g":0.69},{"T":20,"w":-0.6,"t":182,"g":0.71},{"T":20,"w":-0.6,"t":194,"g":0.72},{"T":20,"w":-0.6,"t":206,"g":0.72},{"T":20,"w":-0.6,"t":218,"g":0.72},{"T":20,"w":-0.6,"t":230,"g":0.72},{"T":20,"w":-0.6,"t":242,"g":0.725},{"T":20,"w":-0.6,"t":254,"g":0.725},{"T":20,"w":-0.6,"t":266,"g":0.725},{"T":20,"w":-0.6,"t":278,"g":0.725},{"T":20,"w":-0.6,"t":290,"g":0.725},{"T":20,"w":-0.6,"t":302,"g":0.725},
{"T":20,"w":-0.8,"t":0,"g":0},{"T":20,"w":-0.8,"t":15,"g":0},{"T":20,"w":-0.8,"t":30,"g":0},{"T":20,"w":-0.8,"t":45,"g":0},{"T":20,"w":-0.8,"t":60,"g":0},{"T":20,"w":-0.8,"t":75,"g":0},{"T":20,"w":-0.8,"t":90,"g":0},{"T":20,"w":-0.8,"t":105,"g":0},
{"T":20,"w":-0.8,"t":120,"g":0.05},{"T":20,"w":-0.8,"t":127,"g":0.19},{"T":20,"w":-0.8,"t":142,"g":0.34},{"T":20,"w":-0.8,"t":149,"g":0.41},{"T":20,"w":-0.8,"t":160,"g":0.48},{"T":20,"w":-0.8,"t":171,"g":0.53},{"T":20,"w":-0.8,"t":178,"g":0.58},{"T":20,"w":-0.8,"t":189,"g":0.63},{"T":20,"w":-0.8,"t":204,"g":0.66},{"T":20,"w":-0.8,"t":216,"g":0.66},{"T":20,"w":-0.8,"t":228,"g":0.66},{"T":20,"w":-0.8,"t":240,"g":0.66},{"T":20,"w":-0.8,"t":252,"g":0.66},{"T":20,"w":-0.8,"t":264,"g":0.66},{"T":20,"w":-0.8,"t":276,"g":0.66},{"T":20,"w":-0.8,"t":288,"g":0.66},{"T":20,"w":-0.8,"t":300,"g":0.66},
{"T":20,"w":-1,"t":0,"g":0},{"T":20,"w":-1,"t":15,"g":0},{"T":20,"w":-1,"t":30,"g":0},{"T":20,"w":-1,"t":45,"g":0},{"T":20,"w":-1,"t":60,"g":0},{"T":20,"w":-1,"t":75,"g":0},{"T":20,"w":-1,"t":90,"g":0},{"T":20,"w":-1,"t":105,"g":0},{"T":20,"w":-1,"t":120,"g":0},{"T":20,"w":-1,"t":135,"g":0},{"T":20,"w":-1,"t":150,"g":0},
{"T":20,"w":-1,"t":164,"g":0.01},{"T":20,"w":-1,"t":171,"g":0.21},{"T":20,"w":-1,"t":187,"g":0.3},{"T":20,"w":-1,"t":204,"g":0.41},{"T":20,"w":-1,"t":213,"g":0.45},{"T":20,"w":-1,"t":222,"g":0.49},{"T":20,"w":-1,"t":242,"g":0.52},{"T":20,"w":-1,"t":254,"g":0.52},{"T":20,"w":-1,"t":266,"g":0.52},{"T":20,"w":-1,"t":278,"g":0.52},{"T":20,"w":-1,"t":290,"g":0.52},{"T":20,"w":-1,"t":302,"g":0.525},

{"T":20,"w":0,"t":0,"c":0},{"T":20,"w":0,"t":59,"c":0},{"T":20,"w":0,"t":62,"c":0.2},{"T":20,"w":0,"t":66,"c":0.4},{"T":20,"w":0,"t":73,"c":0.56},{"T":20,"w":0,"t":84,"c":0.68},{"T":20,"w":0,"t":100,"c":0.76},{"T":20,"w":0,"t":125,"c":0.82},{"T":20,"w":0,"t":160,"c":0.855},{"T":20,"w":0,"t":220,"c":0.87},{"T":20,"w":0,"t":300,"c":0.88},
{"T":20,"w":-0.2,"t":0,"c":0},{"T":20,"w":-0.2,"t":70,"c":0},{"T":20,"w":-0.2,"t":73,"c":0.18},{"T":20,"w":-0.2,"t":78,"c":0.36},{"T":20,"w":-0.2,"t":86,"c":0.52},{"T":20,"w":-0.2,"t":98,"c":0.64},{"T":20,"w":-0.2,"t":115,"c":0.73},{"T":20,"w":-0.2,"t":140,"c":0.79},{"T":20,"w":-0.2,"t":180,"c":0.825},{"T":20,"w":-0.2,"t":240,"c":0.84},{"T":20,"w":-0.2,"t":300,"c":0.85},
{"T":20,"w":-0.4,"t":0,"c":0},{"T":20,"w":-0.4,"t":81,"c":0},{"T":20,"w":-0.4,"t":85,"c":0.15},{"T":20,"w":-0.4,"t":90,"c":0.3},{"T":20,"w":-0.4,"t":99,"c":0.45},{"T":20,"w":-0.4,"t":112,"c":0.57},{"T":20,"w":-0.4,"t":130,"c":0.66},{"T":20,"w":-0.4,"t":155,"c":0.73},{"T":20,"w":-0.4,"t":195,"c":0.77},{"T":20,"w":-0.4,"t":250,"c":0.795},{"T":20,"w":-0.4,"t":300,"c":0.81},
{"T":20,"w":-0.6,"t":0,"c":0},{"T":20,"w":-0.6,"t":97,"c":0},{"T":20,"w":-0.6,"t":101,"c":0.12},{"T":20,"w":-0.6,"t":107,"c":0.26},{"T":20,"w":-0.6,"t":116,"c":0.4},{"T":20,"w":-0.6,"t":130,"c":0.52},{"T":20,"w":-0.6,"t":150,"c":0.62},{"T":20,"w":-0.6,"t":175,"c":0.68},{"T":20,"w":-0.6,"t":215,"c":0.72},{"T":20,"w":-0.6,"t":260,"c":0.745},{"T":20,"w":-0.6,"t":300,"c":0.76},
{"T":20,"w":-0.8,"t":0,"c":0},{"T":20,"w":-0.8,"t":119,"c":0},{"T":20,"w":-0.8,"t":123,"c":0.1},{"T":20,"w":-0.8,"t":129,"c":0.22},{"T":20,"w":-0.8,"t":139,"c":0.34},{"T":20,"w":-0.8,"t":153,"c":0.45},{"T":20,"w":-0.8,"t":172,"c":0.55},{"T":20,"w":-0.8,"t":197,"c":0.62},{"T":20,"w":-0.8,"t":232,"c":0.67},{"T":20,"w":-0.8,"t":270,"c":0.69},{"T":20,"w":-0.8,"t":300,"c":0.7},
{"T":20,"w":-1,"t":0,"c":0},{"T":20,"w":-1,"t":156,"c":0},{"T":20,"w":-1,"t":160,"c":0.06},{"T":20,"w":-1,"t":166,"c":0.14},{"T":20,"w":-1,"t":176,"c":0.24},{"T":20,"w":-1,"t":190,"c":0.34},{"T":20,"w":-1,"t":208,"c":0.42},{"T":20,"w":-1,"t":232,"c":0.49},{"T":20,"w":-1,"t":262,"c":0.54},{"T":20,"w":-1,"t":300,"c":0.575},

{"T":24,"w":0,"t":0,"g":0},{"T":24,"w":0,"t":15,"g":0},{"T":24,"w":0,"t":30,"g":0},{"T":24,"w":0,"t":45,"g":0},
{"T":24,"w":0,"t":53,"g":0.07},{"T":24,"w":0,"t":64,"g":0.52},{"T":24,"w":0,"t":76,"g":0.64},{"T":24,"w":0,"t":87,"g":0.7},{"T":24,"w":0,"t":98,"g":0.74},{"T":24,"w":0,"t":109,"g":0.79},{"T":24,"w":0,"t":120,"g":0.81},{"T":24,"w":0,"t":138,"g":0.84},{"T":24,"w":0,"t":150,"g":0.845},{"T":24,"w":0,"t":162,"g":0.85},{"T":24,"w":0,"t":174,"g":0.85},{"T":24,"w":0,"t":186,"g":0.855},{"T":24,"w":0,"t":198,"g":0.855},{"T":24,"w":0,"t":210,"g":0.855},{"T":24,"w":0,"t":222,"g":0.855},{"T":24,"w":0,"t":234,"g":0.855},{"T":24,"w":0,"t":246,"g":0.86},{"T":24,"w":0,"t":258,"g":0.86},{"T":24,"w":0,"t":270,"g":0.86},{"T":24,"w":0,"t":282,"g":0.86},{"T":24,"w":0,"t":294,"g":0.86},{"T":24,"w":0,"t":304,"g":0.86},
{"T":24,"w":-0.2,"t":0,"g":0},{"T":24,"w":-0.2,"t":15,"g":0},{"T":24,"w":-0.2,"t":30,"g":0},{"T":24,"w":-0.2,"t":45,"g":0},{"T":24,"w":-0.2,"t":60,"g":0},
{"T":24,"w":-0.2,"t":71,"g":0.17},{"T":24,"w":-0.2,"t":82,"g":0.43},{"T":24,"w":-0.2,"t":89,"g":0.58},{"T":24,"w":-0.2,"t":104,"g":0.64},{"T":24,"w":-0.2,"t":116,"g":0.7},{"T":24,"w":-0.2,"t":133,"g":0.76},{"T":24,"w":-0.2,"t":156,"g":0.79},{"T":24,"w":-0.2,"t":168,"g":0.795},{"T":24,"w":-0.2,"t":180,"g":0.795},{"T":24,"w":-0.2,"t":192,"g":0.8},{"T":24,"w":-0.2,"t":204,"g":0.8},{"T":24,"w":-0.2,"t":216,"g":0.8},{"T":24,"w":-0.2,"t":228,"g":0.8},{"T":24,"w":-0.2,"t":240,"g":0.8},{"T":24,"w":-0.2,"t":252,"g":0.8},{"T":24,"w":-0.2,"t":264,"g":0.8},{"T":24,"w":-0.2,"t":276,"g":0.8},{"T":24,"w":-0.2,"t":288,"g":0.8},{"T":24,"w":-0.2,"t":300,"g":0.8},
{"T":24,"w":-0.4,"t":0,"g":0},{"T":24,"w":-0.4,"t":15,"g":0},{"T":24,"w":-0.4,"t":30,"g":0},{"T":24,"w":-0.4,"t":45,"g":0},{"T":24,"w":-0.4,"t":60,"g":0},{"T":24,"w":-0.4,"t":75,"g":0},
{"T":24,"w":-0.4,"t":82,"g":0.03},{"T":24,"w":-0.4,"t":93,"g":0.34},{"T":24,"w":-0.4,"t":104,"g":0.48},{"T":24,"w":-0.4,"t":116,"g":0.55},{"T":24,"w":-0.4,"t":131,"g":0.63},{"T":24,"w":-0.4,"t":144,"g":0.67},{"T":24,"w":-0.4,"t":160,"g":0.72},{"T":24,"w":-0.4,"t":172,"g":0.725},{"T":24,"w":-0.4,"t":184,"g":0.73},{"T":24,"w":-0.4,"t":196,"g":0.73},{"T":24,"w":-0.4,"t":208,"g":0.73},{"T":24,"w":-0.4,"t":220,"g":0.73},{"T":24,"w":-0.4,"t":232,"g":0.73},{"T":24,"w":-0.4,"t":244,"g":0.73},{"T":24,"w":-0.4,"t":256,"g":0.73},{"T":24,"w":-0.4,"t":268,"g":0.73},{"T":24,"w":-0.4,"t":280,"g":0.73},{"T":24,"w":-0.4,"t":292,"g":0.73},{"T":24,"w":-0.4,"t":300,"g":0.73},
{"T":24,"w":-0.6,"t":0,"g":0},{"T":24,"w":-0.6,"t":15,"g":0},{"T":24,"w":-0.6,"t":30,"g":0},{"T":24,"w":-0.6,"t":45,"g":0},{"T":24,"w":-0.6,"t":60,"g":0},{"T":24,"w":-0.6,"t":75,"g":0},{"T":24,"w":-0.6,"t":90,"g":0},{"T":24,"w":-0.6,"t":102,"g":0},
{"T":24,"w":-0.6,"t":109,"g":0.08},{"T":24,"w":-0.6,"t":116,"g":0.3},{"T":24,"w":-0.6,"t":131,"g":0.41},{"T":24,"w":-0.6,"t":142,"g":0.47},{"T":24,"w":-0.6,"t":153,"g":0.53},{"T":24,"w":-0.6,"t":171,"g":0.59},{"T":24,"w":-0.6,"t":189,"g":0.63},{"T":24,"w":-0.6,"t":201,"g":0.63},{"T":24,"w":-0.6,"t":213,"g":0.63},{"T":24,"w":-0.6,"t":225,"g":0.63},{"T":24,"w":-0.6,"t":237,"g":0.63},{"T":24,"w":-0.6,"t":249,"g":0.63},{"T":24,"w":-0.6,"t":261,"g":0.63},{"T":24,"w":-0.6,"t":273,"g":0.63},{"T":24,"w":-0.6,"t":285,"g":0.63},{"T":24,"w":-0.6,"t":297,"g":0.63},
{"T":24,"w":-0.8,"t":0,"g":0},{"T":24,"w":-0.8,"t":15,"g":0},{"T":24,"w":-0.8,"t":30,"g":0},{"T":24,"w":-0.8,"t":45,"g":0},{"T":24,"w":-0.8,"t":60,"g":0},{"T":24,"w":-0.8,"t":75,"g":0},{"T":24,"w":-0.8,"t":90,"g":0},{"T":24,"w":-0.8,"t":105,"g":0},{"T":24,"w":-0.8,"t":120,"g":0},{"T":24,"w":-0.8,"t":135,"g":0},
{"T":24,"w":-0.8,"t":142,"g":0.04},{"T":24,"w":-0.8,"t":153,"g":0.23},{"T":24,"w":-0.8,"t":167,"g":0.34},{"T":24,"w":-0.8,"t":176,"g":0.39},{"T":24,"w":-0.8,"t":187,"g":0.47},{"T":24,"w":-0.8,"t":198,"g":0.49},{"T":24,"w":-0.8,"t":211,"g":0.51},{"T":24,"w":-0.8,"t":223,"g":0.51},{"T":24,"w":-0.8,"t":235,"g":0.51},{"T":24,"w":-0.8,"t":247,"g":0.51},{"T":24,"w":-0.8,"t":259,"g":0.51},{"T":24,"w":-0.8,"t":271,"g":0.51},{"T":24,"w":-0.8,"t":283,"g":0.51},{"T":24,"w":-0.8,"t":295,"g":0.51},
{"T":24,"w":-1,"t":0,"g":0},{"T":24,"w":-1,"t":15,"g":0},{"T":24,"w":-1,"t":30,"g":0},{"T":24,"w":-1,"t":45,"g":0},{"T":24,"w":-1,"t":60,"g":0},{"T":24,"w":-1,"t":75,"g":0},{"T":24,"w":-1,"t":90,"g":0},{"T":24,"w":-1,"t":105,"g":0},{"T":24,"w":-1,"t":120,"g":0},{"T":24,"w":-1,"t":135,"g":0},{"T":24,"w":-1,"t":150,"g":0},{"T":24,"w":-1,"t":165,"g":0},{"T":24,"w":-1,"t":180,"g":0},{"T":24,"w":-1,"t":195,"g":0},
{"T":24,"w":-1,"t":204,"g":0.02},{"T":24,"w":-1,"t":216,"g":0.05},{"T":24,"w":-1,"t":227,"g":0.1},{"T":24,"w":-1,"t":238,"g":0.14},{"T":24,"w":-1,"t":249,"g":0.21},{"T":24,"w":-1,"t":260,"g":0.26},{"T":24,"w":-1,"t":272,"g":0.27},{"T":24,"w":-1,"t":284,"g":0.27},{"T":24,"w":-1,"t":296,"g":0.27},

{"T":24,"w":0,"t":0,"c":0},{"T":24,"w":0,"t":55,"c":0},{"T":24,"w":0,"t":58,"c":0.22},{"T":24,"w":0,"t":62,"c":0.42},{"T":24,"w":0,"t":69,"c":0.57},{"T":24,"w":0,"t":80,"c":0.68},{"T":24,"w":0,"t":96,"c":0.75},{"T":24,"w":0,"t":120,"c":0.8},{"T":24,"w":0,"t":155,"c":0.83},{"T":24,"w":0,"t":220,"c":0.845},{"T":24,"w":0,"t":300,"c":0.85},
{"T":24,"w":-0.2,"t":0,"c":0},{"T":24,"w":-0.2,"t":68,"c":0},{"T":24,"w":-0.2,"t":71,"c":0.18},{"T":24,"w":-0.2,"t":76,"c":0.36},{"T":24,"w":-0.2,"t":84,"c":0.52},{"T":24,"w":-0.2,"t":96,"c":0.63},{"T":24,"w":-0.2,"t":113,"c":0.7},{"T":24,"w":-0.2,"t":138,"c":0.75},{"T":24,"w":-0.2,"t":175,"c":0.78},{"T":24,"w":-0.2,"t":240,"c":0.795},{"T":24,"w":-0.2,"t":300,"c":0.8},
{"T":24,"w":-0.4,"t":0,"c":0},{"T":24,"w":-0.4,"t":80,"c":0},{"T":24,"w":-0.4,"t":84,"c":0.15},{"T":24,"w":-0.4,"t":90,"c":0.3},{"T":24,"w":-0.4,"t":99,"c":0.44},{"T":24,"w":-0.4,"t":112,"c":0.55},{"T":24,"w":-0.4,"t":130,"c":0.63},{"T":24,"w":-0.4,"t":155,"c":0.69},{"T":24,"w":-0.4,"t":195,"c":0.72},{"T":24,"w":-0.4,"t":250,"c":0.73},{"T":24,"w":-0.4,"t":300,"c":0.735},
{"T":24,"w":-0.6,"t":0,"c":0},{"T":24,"w":-0.6,"t":104,"c":0},{"T":24,"w":-0.6,"t":108,"c":0.1},{"T":24,"w":-0.6,"t":114,"c":0.23},{"T":24,"w":-0.6,"t":123,"c":0.36},{"T":24,"w":-0.6,"t":137,"c":0.47},{"T":24,"w":-0.6,"t":156,"c":0.56},{"T":24,"w":-0.6,"t":182,"c":0.62},{"T":24,"w":-0.6,"t":220,"c":0.655},{"T":24,"w":-0.6,"t":260,"c":0.665},{"T":24,"w":-0.6,"t":300,"c":0.67},
{"T":24,"w":-0.8,"t":0,"c":0},{"T":24,"w":-0.8,"t":142,"c":0},{"T":24,"w":-0.8,"t":146,"c":0.08},{"T":24,"w":-0.8,"t":152,"c":0.18},{"T":24,"w":-0.8,"t":162,"c":0.29},{"T":24,"w":-0.8,"t":176,"c":0.39},{"T":24,"w":-0.8,"t":195,"c":0.47},{"T":24,"w":-0.8,"t":220,"c":0.53},{"T":24,"w":-0.8,"t":255,"c":0.57},{"T":24,"w":-0.8,"t":300,"c":0.595},
{"T":24,"w":-1,"t":0,"c":0},{"T":24,"w":-1,"t":204,"c":0},{"T":24,"w":-1,"t":209,"c":0.04},{"T":24,"w":-1,"t":216,"c":0.1},{"T":24,"w":-1,"t":226,"c":0.17},{"T":24,"w":-1,"t":240,"c":0.24},{"T":24,"w":-1,"t":258,"c":0.3},{"T":24,"w":-1,"t":278,"c":0.345},{"T":24,"w":-1,"t":298,"c":0.375},

{"T":28,"w":0,"t":0,"g":0},{"T":28,"w":0,"t":15,"g":0},{"T":28,"w":0,"t":30,"g":0},{"T":28,"w":0,"t":45,"g":0},
{"T":28,"w":0,"t":56,"g":0.05},{"T":28,"w":0,"t":67,"g":0.44},{"T":28,"w":0,"t":78,"g":0.57},{"T":28,"w":0,"t":89,"g":0.66},{"T":28,"w":0,"t":100,"g":0.69},{"T":28,"w":0,"t":116,"g":0.73},{"T":28,"w":0,"t":129,"g":0.75},{"T":28,"w":0,"t":149,"g":0.8},{"T":28,"w":0,"t":161,"g":0.8},{"T":28,"w":0,"t":173,"g":0.8},{"T":28,"w":0,"t":185,"g":0.805},{"T":28,"w":0,"t":197,"g":0.805},{"T":28,"w":0,"t":209,"g":0.805},{"T":28,"w":0,"t":221,"g":0.805},{"T":28,"w":0,"t":233,"g":0.81},{"T":28,"w":0,"t":245,"g":0.81},{"T":28,"w":0,"t":257,"g":0.81},{"T":28,"w":0,"t":269,"g":0.81},{"T":28,"w":0,"t":281,"g":0.81},{"T":28,"w":0,"t":293,"g":0.81},{"T":28,"w":0,"t":302,"g":0.81},
{"T":28,"w":-0.2,"t":0,"g":0},{"T":28,"w":-0.2,"t":15,"g":0},{"T":28,"w":-0.2,"t":30,"g":0},{"T":28,"w":-0.2,"t":45,"g":0},{"T":28,"w":-0.2,"t":60,"g":0},
{"T":28,"w":-0.2,"t":71,"g":0.07},{"T":28,"w":-0.2,"t":82,"g":0.35},{"T":28,"w":-0.2,"t":93,"g":0.48},{"T":28,"w":-0.2,"t":104,"g":0.57},{"T":28,"w":-0.2,"t":116,"g":0.61},{"T":28,"w":-0.2,"t":129,"g":0.66},{"T":28,"w":-0.2,"t":144,"g":0.7},{"T":28,"w":-0.2,"t":156,"g":0.705},{"T":28,"w":-0.2,"t":168,"g":0.71},{"T":28,"w":-0.2,"t":180,"g":0.71},{"T":28,"w":-0.2,"t":192,"g":0.71},{"T":28,"w":-0.2,"t":204,"g":0.71},{"T":28,"w":-0.2,"t":216,"g":0.71},{"T":28,"w":-0.2,"t":228,"g":0.71},{"T":28,"w":-0.2,"t":240,"g":0.71},{"T":28,"w":-0.2,"t":252,"g":0.71},{"T":28,"w":-0.2,"t":264,"g":0.71},{"T":28,"w":-0.2,"t":276,"g":0.71},{"T":28,"w":-0.2,"t":288,"g":0.71},{"T":28,"w":-0.2,"t":300,"g":0.71},
{"T":28,"w":-0.4,"t":0,"g":0},{"T":28,"w":-0.4,"t":15,"g":0},{"T":28,"w":-0.4,"t":30,"g":0},{"T":28,"w":-0.4,"t":45,"g":0},{"T":28,"w":-0.4,"t":60,"g":0},{"T":28,"w":-0.4,"t":75,"g":0},
{"T":28,"w":-0.4,"t":82,"g":0.04},{"T":28,"w":-0.4,"t":93,"g":0.1},{"T":28,"w":-0.4,"t":104,"g":0.3},{"T":28,"w":-0.4,"t":111,"g":0.39},{"T":28,"w":-0.4,"t":129,"g":0.49},{"T":28,"w":-0.4,"t":140,"g":0.55},{"T":28,"w":-0.4,"t":156,"g":0.59},{"T":28,"w":-0.4,"t":173,"g":0.62},{"T":28,"w":-0.4,"t":193,"g":0.64},{"T":28,"w":-0.4,"t":205,"g":0.645},{"T":28,"w":-0.4,"t":217,"g":0.645},{"T":28,"w":-0.4,"t":229,"g":0.65},{"T":28,"w":-0.4,"t":241,"g":0.65},{"T":28,"w":-0.4,"t":253,"g":0.65},{"T":28,"w":-0.4,"t":265,"g":0.65},{"T":28,"w":-0.4,"t":277,"g":0.65},{"T":28,"w":-0.4,"t":289,"g":0.65},{"T":28,"w":-0.4,"t":300,"g":0.65},
{"T":28,"w":-0.6,"t":0,"g":0},{"T":28,"w":-0.6,"t":15,"g":0},{"T":28,"w":-0.6,"t":30,"g":0},{"T":28,"w":-0.6,"t":45,"g":0},{"T":28,"w":-0.6,"t":60,"g":0},{"T":28,"w":-0.6,"t":75,"g":0},{"T":28,"w":-0.6,"t":90,"g":0},{"T":28,"w":-0.6,"t":105,"g":0},{"T":28,"w":-0.6,"t":120,"g":0},
{"T":28,"w":-0.6,"t":129,"g":0.04},{"T":28,"w":-0.6,"t":138,"g":0.18},{"T":28,"w":-0.6,"t":151,"g":0.26},{"T":28,"w":-0.6,"t":167,"g":0.37},{"T":28,"w":-0.6,"t":178,"g":0.42},{"T":28,"w":-0.6,"t":193,"g":0.47},{"T":28,"w":-0.6,"t":211,"g":0.49},{"T":28,"w":-0.6,"t":223,"g":0.5},{"T":28,"w":-0.6,"t":235,"g":0.5},{"T":28,"w":-0.6,"t":247,"g":0.5},{"T":28,"w":-0.6,"t":259,"g":0.5},{"T":28,"w":-0.6,"t":271,"g":0.5},{"T":28,"w":-0.6,"t":283,"g":0.505},{"T":28,"w":-0.6,"t":295,"g":0.505},{"T":28,"w":-0.6,"t":304,"g":0.505},
{"T":28,"w":-0.8,"t":0,"g":0},{"T":28,"w":-0.8,"t":15,"g":0},{"T":28,"w":-0.8,"t":30,"g":0},{"T":28,"w":-0.8,"t":45,"g":0},{"T":28,"w":-0.8,"t":60,"g":0},{"T":28,"w":-0.8,"t":75,"g":0},{"T":28,"w":-0.8,"t":90,"g":0},{"T":28,"w":-0.8,"t":105,"g":0},{"T":28,"w":-0.8,"t":120,"g":0},{"T":28,"w":-0.8,"t":135,"g":0},{"T":28,"w":-0.8,"t":150,"g":0},{"T":28,"w":-0.8,"t":165,"g":0},{"T":28,"w":-0.8,"t":180,"g":0},
{"T":28,"w":-0.8,"t":196,"g":0.02},{"T":28,"w":-0.8,"t":211,"g":0.05},{"T":28,"w":-0.8,"t":227,"g":0.13},{"T":28,"w":-0.8,"t":238,"g":0.17},{"T":28,"w":-0.8,"t":249,"g":0.22},{"T":28,"w":-0.8,"t":262,"g":0.27},{"T":28,"w":-0.8,"t":274,"g":0.275},{"T":28,"w":-0.8,"t":286,"g":0.275},{"T":28,"w":-0.8,"t":298,"g":0.275},
{"T":28,"w":-1,"t":0,"g":0},{"T":28,"w":-1,"t":15,"g":0},{"T":28,"w":-1,"t":30,"g":0},{"T":28,"w":-1,"t":45,"g":0},{"T":28,"w":-1,"t":60,"g":0},{"T":28,"w":-1,"t":75,"g":0},{"T":28,"w":-1,"t":90,"g":0},{"T":28,"w":-1,"t":105,"g":0},{"T":28,"w":-1,"t":120,"g":0},{"T":28,"w":-1,"t":135,"g":0},{"T":28,"w":-1,"t":150,"g":0},{"T":28,"w":-1,"t":165,"g":0},{"T":28,"w":-1,"t":180,"g":0},{"T":28,"w":-1,"t":195,"g":0},{"T":28,"w":-1,"t":210,"g":0},{"T":28,"w":-1,"t":225,"g":0},{"T":28,"w":-1,"t":240,"g":0},{"T":28,"w":-1,"t":255,"g":0},{"T":28,"w":-1,"t":270,"g":0},{"T":28,"w":-1,"t":285,"g":0},{"T":28,"w":-1,"t":300,"g":0},

{"T":28,"w":0,"t":0,"c":0},{"T":28,"w":0,"t":59,"c":0},{"T":28,"w":0,"t":62,"c":0.2},{"T":28,"w":0,"t":66,"c":0.38},{"T":28,"w":0,"t":73,"c":0.53},{"T":28,"w":0,"t":84,"c":0.64},{"T":28,"w":0,"t":100,"c":0.71},{"T":28,"w":0,"t":125,"c":0.76},{"T":28,"w":0,"t":165,"c":0.79},{"T":28,"w":0,"t":230,"c":0.805},{"T":28,"w":0,"t":300,"c":0.81},
{"T":28,"w":-0.2,"t":0,"c":0},{"T":28,"w":-0.2,"t":70,"c":0},{"T":28,"w":-0.2,"t":73,"c":0.15},{"T":28,"w":-0.2,"t":78,"c":0.3},{"T":28,"w":-0.2,"t":86,"c":0.44},{"T":28,"w":-0.2,"t":98,"c":0.56},{"T":28,"w":-0.2,"t":115,"c":0.64},{"T":28,"w":-0.2,"t":140,"c":0.7},{"T":28,"w":-0.2,"t":180,"c":0.735},{"T":28,"w":-0.2,"t":240,"c":0.755},{"T":28,"w":-0.2,"t":300,"c":0.765},
{"T":28,"w":-0.4,"t":0,"c":0},{"T":28,"w":-0.4,"t":95,"c":0},{"T":28,"w":-0.4,"t":99,"c":0.12},{"T":28,"w":-0.4,"t":105,"c":0.25},{"T":28,"w":-0.4,"t":114,"c":0.38},{"T":28,"w":-0.4,"t":127,"c":0.49},{"T":28,"w":-0.4,"t":145,"c":0.57},{"T":28,"w":-0.4,"t":170,"c":0.63},{"T":28,"w":-0.4,"t":205,"c":0.67},{"T":28,"w":-0.4,"t":250,"c":0.69},{"T":28,"w":-0.4,"t":300,"c":0.705},
{"T":28,"w":-0.6,"t":0,"c":0},{"T":28,"w":-0.6,"t":128,"c":0},{"T":28,"w":-0.6,"t":132,"c":0.08},{"T":28,"w":-0.6,"t":138,"c":0.17},{"T":28,"w":-0.6,"t":147,"c":0.27},{"T":28,"w":-0.6,"t":160,"c":0.36},{"T":28,"w":-0.6,"t":178,"c":0.44},{"T":28,"w":-0.6,"t":202,"c":0.5},{"T":28,"w":-0.6,"t":235,"c":0.55},{"T":28,"w":-0.6,"t":270,"c":0.575},{"T":28,"w":-0.6,"t":300,"c":0.59},
{"T":28,"w":-0.8,"t":0,"c":0},{"T":28,"w":-0.8,"t":199,"c":0},{"T":28,"w":-0.8,"t":203,"c":0.05},{"T":28,"w":-0.8,"t":210,"c":0.11},{"T":28,"w":-0.8,"t":220,"c":0.18},{"T":28,"w":-0.8,"t":234,"c":0.25},{"T":28,"w":-0.8,"t":252,"c":0.3},{"T":28,"w":-0.8,"t":275,"c":0.34},{"T":28,"w":-0.8,"t":300,"c":0.365},

{"T":32,"w":0,"t":0,"g":0},{"T":32,"w":0,"t":15,"g":0},{"T":32,"w":0,"t":30,"g":0},{"T":32,"w":0,"t":45,"g":0},
{"T":32,"w":0,"t":58,"g":0.03},{"T":32,"w":0,"t":67,"g":0.25},{"T":32,"w":0,"t":80,"g":0.45},{"T":32,"w":0,"t":89,"g":0.56},{"T":32,"w":0,"t":100,"g":0.59},{"T":32,"w":0,"t":107,"g":0.63},{"T":32,"w":0,"t":118,"g":0.66},{"T":32,"w":0,"t":133,"g":0.69},{"T":32,"w":0,"t":151,"g":0.72},{"T":32,"w":0,"t":163,"g":0.72},{"T":32,"w":0,"t":175,"g":0.72},{"T":32,"w":0,"t":187,"g":0.72},{"T":32,"w":0,"t":199,"g":0.72},{"T":32,"w":0,"t":211,"g":0.72},{"T":32,"w":0,"t":223,"g":0.72},{"T":32,"w":0,"t":235,"g":0.725},{"T":32,"w":0,"t":247,"g":0.725},{"T":32,"w":0,"t":259,"g":0.725},{"T":32,"w":0,"t":271,"g":0.725},{"T":32,"w":0,"t":283,"g":0.725},{"T":32,"w":0,"t":295,"g":0.725},{"T":32,"w":0,"t":305,"g":0.725},
{"T":32,"w":-0.2,"t":0,"g":0},{"T":32,"w":-0.2,"t":15,"g":0},{"T":32,"w":-0.2,"t":30,"g":0},{"T":32,"w":-0.2,"t":45,"g":0},{"T":32,"w":-0.2,"t":60,"g":0},{"T":32,"w":-0.2,"t":75,"g":0},
{"T":32,"w":-0.2,"t":80,"g":0.03},{"T":32,"w":-0.2,"t":89,"g":0.26},{"T":32,"w":-0.2,"t":107,"g":0.37},{"T":32,"w":-0.2,"t":111,"g":0.44},{"T":32,"w":-0.2,"t":124,"g":0.52},{"T":32,"w":-0.2,"t":140,"g":0.56},{"T":32,"w":-0.2,"t":156,"g":0.61},{"T":32,"w":-0.2,"t":173,"g":0.63},{"T":32,"w":-0.2,"t":185,"g":0.63},{"T":32,"w":-0.2,"t":197,"g":0.63},{"T":32,"w":-0.2,"t":209,"g":0.63},{"T":32,"w":-0.2,"t":221,"g":0.63},{"T":32,"w":-0.2,"t":233,"g":0.63},{"T":32,"w":-0.2,"t":245,"g":0.63},{"T":32,"w":-0.2,"t":257,"g":0.63},{"T":32,"w":-0.2,"t":269,"g":0.63},{"T":32,"w":-0.2,"t":281,"g":0.63},{"T":32,"w":-0.2,"t":293,"g":0.63},{"T":32,"w":-0.2,"t":305,"g":0.63},
{"T":32,"w":-0.4,"t":0,"g":0},{"T":32,"w":-0.4,"t":15,"g":0},{"T":32,"w":-0.4,"t":30,"g":0},{"T":32,"w":-0.4,"t":45,"g":0},{"T":32,"w":-0.4,"t":60,"g":0},{"T":32,"w":-0.4,"t":75,"g":0},{"T":32,"w":-0.4,"t":90,"g":0},{"T":32,"w":-0.4,"t":105,"g":0},
{"T":32,"w":-0.4,"t":118,"g":0.03},{"T":32,"w":-0.4,"t":124,"g":0.18},{"T":32,"w":-0.4,"t":140,"g":0.28},{"T":32,"w":-0.4,"t":151,"g":0.33},{"T":32,"w":-0.4,"t":162,"g":0.38},{"T":32,"w":-0.4,"t":173,"g":0.43},{"T":32,"w":-0.4,"t":189,"g":0.45},{"T":32,"w":-0.4,"t":202,"g":0.47},{"T":32,"w":-0.4,"t":214,"g":0.47},{"T":32,"w":-0.4,"t":226,"g":0.47},{"T":32,"w":-0.4,"t":238,"g":0.47},{"T":32,"w":-0.4,"t":250,"g":0.47},{"T":32,"w":-0.4,"t":262,"g":0.47},{"T":32,"w":-0.4,"t":274,"g":0.47},{"T":32,"w":-0.4,"t":286,"g":0.47},{"T":32,"w":-0.4,"t":298,"g":0.47},{"T":32,"w":-0.4,"t":306,"g":0.47},
{"T":32,"w":-0.6,"t":0,"g":0},{"T":32,"w":-0.6,"t":15,"g":0},{"T":32,"w":-0.6,"t":30,"g":0},{"T":32,"w":-0.6,"t":45,"g":0},{"T":32,"w":-0.6,"t":60,"g":0},{"T":32,"w":-0.6,"t":75,"g":0},{"T":32,"w":-0.6,"t":90,"g":0},{"T":32,"w":-0.6,"t":105,"g":0},{"T":32,"w":-0.6,"t":120,"g":0},{"T":32,"w":-0.6,"t":135,"g":0},{"T":32,"w":-0.6,"t":150,"g":0},{"T":32,"w":-0.6,"t":165,"g":0},{"T":32,"w":-0.6,"t":180,"g":0},{"T":32,"w":-0.6,"t":195,"g":0},
{"T":32,"w":-0.6,"t":202,"g":0.04},{"T":32,"w":-0.6,"t":213,"g":0.1},{"T":32,"w":-0.6,"t":224,"g":0.16},{"T":32,"w":-0.6,"t":236,"g":0.21},{"T":32,"w":-0.6,"t":247,"g":0.24},{"T":32,"w":-0.6,"t":259,"g":0.24},{"T":32,"w":-0.6,"t":271,"g":0.24},{"T":32,"w":-0.6,"t":283,"g":0.24},{"T":32,"w":-0.6,"t":295,"g":0.24},{"T":32,"w":-0.6,"t":305,"g":0.24},
{"T":32,"w":-0.8,"t":0,"g":0},{"T":32,"w":-0.8,"t":15,"g":0},{"T":32,"w":-0.8,"t":30,"g":0},{"T":32,"w":-0.8,"t":45,"g":0},{"T":32,"w":-0.8,"t":60,"g":0},{"T":32,"w":-0.8,"t":75,"g":0},{"T":32,"w":-0.8,"t":90,"g":0},{"T":32,"w":-0.8,"t":105,"g":0},{"T":32,"w":-0.8,"t":120,"g":0},{"T":32,"w":-0.8,"t":135,"g":0},{"T":32,"w":-0.8,"t":150,"g":0},{"T":32,"w":-0.8,"t":165,"g":0},{"T":32,"w":-0.8,"t":180,"g":0},{"T":32,"w":-0.8,"t":195,"g":0},{"T":32,"w":-0.8,"t":210,"g":0},{"T":32,"w":-0.8,"t":225,"g":0},{"T":32,"w":-0.8,"t":240,"g":0},{"T":32,"w":-0.8,"t":255,"g":0},{"T":32,"w":-0.8,"t":270,"g":0},{"T":32,"w":-0.8,"t":285,"g":0},{"T":32,"w":-0.8,"t":300,"g":0},{"T":32,"w":-0.8,"t":315,"g":0},{"T":32,"w":-0.8,"t":330,"g":0},
{"T":32,"w":-1,"t":0,"g":0},{"T":32,"w":-1,"t":15,"g":0},{"T":32,"w":-1,"t":30,"g":0},{"T":32,"w":-1,"t":45,"g":0},{"T":32,"w":-1,"t":60,"g":0},{"T":32,"w":-1,"t":75,"g":0},{"T":32,"w":-1,"t":90,"g":0},{"T":32,"w":-1,"t":105,"g":0},{"T":32,"w":-1,"t":120,"g":0},{"T":32,"w":-1,"t":135,"g":0},{"T":32,"w":-1,"t":150,"g":0},{"T":32,"w":-1,"t":165,"g":0},{"T":32,"w":-1,"t":180,"g":0},{"T":32,"w":-1,"t":195,"g":0},{"T":32,"w":-1,"t":210,"g":0},{"T":32,"w":-1,"t":225,"g":0},{"T":32,"w":-1,"t":240,"g":0},{"T":32,"w":-1,"t":255,"g":0},{"T":32,"w":-1,"t":270,"g":0},{"T":32,"w":-1,"t":285,"g":0},{"T":32,"w":-1,"t":300,"g":0},{"T":32,"w":-1,"t":315,"g":0},{"T":32,"w":-1,"t":330,"g":0},

{"T":32,"w":0,"t":0,"c":0},{"T":32,"w":0,"t":60,"c":0},{"T":32,"w":0,"t":63,"c":0.12},{"T":32,"w":0,"t":68,"c":0.27},{"T":32,"w":0,"t":76,"c":0.41},{"T":32,"w":0,"t":88,"c":0.53},{"T":32,"w":0,"t":105,"c":0.62},{"T":32,"w":0,"t":130,"c":0.68},{"T":32,"w":0,"t":170,"c":0.72},{"T":32,"w":0,"t":230,"c":0.75},{"T":32,"w":0,"t":300,"c":0.77},
{"T":32,"w":-0.2,"t":0,"c":0},{"T":32,"w":-0.2,"t":79,"c":0},{"T":32,"w":-0.2,"t":83,"c":0.12},{"T":32,"w":-0.2,"t":89,"c":0.25},{"T":32,"w":-0.2,"t":98,"c":0.37},{"T":32,"w":-0.2,"t":111,"c":0.47},{"T":32,"w":-0.2,"t":130,"c":0.55},{"T":32,"w":-0.2,"t":155,"c":0.61},{"T":32,"w":-0.2,"t":195,"c":0.65},{"T":32,"w":-0.2,"t":250,"c":0.675},{"T":32,"w":-0.2,"t":300,"c":0.69},
{"T":32,"w":-0.4,"t":0,"c":0},{"T":32,"w":-0.4,"t":117,"c":0},{"T":32,"w":-0.4,"t":121,"c":0.08},{"T":32,"w":-0.4,"t":127,"c":0.17},{"T":32,"w":-0.4,"t":136,"c":0.26},{"T":32,"w":-0.4,"t":149,"c":0.35},{"T":32,"w":-0.4,"t":167,"c":0.42},{"T":32,"w":-0.4,"t":192,"c":0.48},{"T":32,"w":-0.4,"t":225,"c":0.52},{"T":32,"w":-0.4,"t":262,"c":0.55},{"T":32,"w":-0.4,"t":300,"c":0.57},
{"T":32,"w":-0.6,"t":0,"c":0},{"T":32,"w":-0.6,"t":201,"c":0},{"T":32,"w":-0.6,"t":205,"c":0.05},{"T":32,"w":-0.6,"t":212,"c":0.1},{"T":32,"w":-0.6,"t":222,"c":0.16},{"T":32,"w":-0.6,"t":236,"c":0.22},{"T":32,"w":-0.6,"t":254,"c":0.27},{"T":32,"w":-0.6,"t":276,"c":0.31},{"T":32,"w":-0.6,"t":300,"c":0.335},

{"T":36,"w":0,"t":0,"g":0},{"T":36,"w":0,"t":15,"g":0},{"T":36,"w":0,"t":30,"g":0},{"T":36,"w":0,"t":45,"g":0},{"T":36,"w":0,"t":60,"g":0},
{"T":36,"w":0,"t":67,"g":0.03},{"T":36,"w":0,"t":82,"g":0.14},{"T":36,"w":0,"t":93,"g":0.32},{"T":36,"w":0,"t":104,"g":0.42},{"T":36,"w":0,"t":118,"g":0.48},{"T":36,"w":0,"t":127,"g":0.52},{"T":36,"w":0,"t":138,"g":0.56},{"T":36,"w":0,"t":149,"g":0.58},{"T":36,"w":0,"t":164,"g":0.6},{"T":36,"w":0,"t":176,"g":0.605},{"T":36,"w":0,"t":188,"g":0.61},{"T":36,"w":0,"t":200,"g":0.61},{"T":36,"w":0,"t":212,"g":0.61},{"T":36,"w":0,"t":224,"g":0.61},{"T":36,"w":0,"t":236,"g":0.61},{"T":36,"w":0,"t":248,"g":0.61},{"T":36,"w":0,"t":260,"g":0.61},{"T":36,"w":0,"t":272,"g":0.61},{"T":36,"w":0,"t":284,"g":0.61},{"T":36,"w":0,"t":296,"g":0.61},{"T":36,"w":0,"t":305,"g":0.61},
{"T":36,"w":-0.2,"t":0,"g":0},{"T":36,"w":-0.2,"t":15,"g":0},{"T":36,"w":-0.2,"t":30,"g":0},{"T":36,"w":-0.2,"t":45,"g":0},{"T":36,"w":-0.2,"t":60,"g":0},{"T":36,"w":-0.2,"t":75,"g":0},{"T":36,"w":-0.2,"t":90,"g":0},{"T":36,"w":-0.2,"t":105,"g":0},
{"T":36,"w":-0.2,"t":120,"g":0.06},{"T":36,"w":-0.2,"t":131,"g":0.19},{"T":36,"w":-0.2,"t":144,"g":0.28},{"T":36,"w":-0.2,"t":155,"g":0.33},{"T":36,"w":-0.2,"t":164,"g":0.37},{"T":36,"w":-0.2,"t":176,"g":0.42},{"T":36,"w":-0.2,"t":193,"g":0.47},{"T":36,"w":-0.2,"t":216,"g":0.49},{"T":36,"w":-0.2,"t":228,"g":0.49},{"T":36,"w":-0.2,"t":240,"g":0.49},{"T":36,"w":-0.2,"t":252,"g":0.49},{"T":36,"w":-0.2,"t":264,"g":0.49},{"T":36,"w":-0.2,"t":276,"g":0.49},{"T":36,"w":-0.2,"t":288,"g":0.49},{"T":36,"w":-0.2,"t":300,"g":0.49},
{"T":36,"w":-0.4,"t":0,"g":0},{"T":36,"w":-0.4,"t":15,"g":0},{"T":36,"w":-0.4,"t":30,"g":0},{"T":36,"w":-0.4,"t":45,"g":0},{"T":36,"w":-0.4,"t":60,"g":0},{"T":36,"w":-0.4,"t":75,"g":0},{"T":36,"w":-0.4,"t":90,"g":0},{"T":36,"w":-0.4,"t":105,"g":0},{"T":36,"w":-0.4,"t":120,"g":0},{"T":36,"w":-0.4,"t":135,"g":0},{"T":36,"w":-0.4,"t":150,"g":0},{"T":36,"w":-0.4,"t":165,"g":0},{"T":36,"w":-0.4,"t":180,"g":0},{"T":36,"w":-0.4,"t":195,"g":0},
{"T":36,"w":-0.4,"t":209,"g":0.02},{"T":36,"w":-0.4,"t":227,"g":0.05},{"T":36,"w":-0.4,"t":231,"g":0.09},{"T":36,"w":-0.4,"t":244,"g":0.16},{"T":36,"w":-0.4,"t":260,"g":0.18},{"T":36,"w":-0.4,"t":272,"g":0.18},{"T":36,"w":-0.4,"t":284,"g":0.18},{"T":36,"w":-0.4,"t":296,"g":0.18},{"T":36,"w":-0.4,"t":305,"g":0.18},
{"T":36,"w":-0.6,"t":0,"g":0},{"T":36,"w":-0.6,"t":15,"g":0},{"T":36,"w":-0.6,"t":30,"g":0},{"T":36,"w":-0.6,"t":45,"g":0},{"T":36,"w":-0.6,"t":60,"g":0},{"T":36,"w":-0.6,"t":75,"g":0},{"T":36,"w":-0.6,"t":90,"g":0},{"T":36,"w":-0.6,"t":105,"g":0},{"T":36,"w":-0.6,"t":120,"g":0},{"T":36,"w":-0.6,"t":135,"g":0},{"T":36,"w":-0.6,"t":150,"g":0},{"T":36,"w":-0.6,"t":165,"g":0},{"T":36,"w":-0.6,"t":180,"g":0},{"T":36,"w":-0.6,"t":195,"g":0},{"T":36,"w":-0.6,"t":210,"g":0},{"T":36,"w":-0.6,"t":225,"g":0},{"T":36,"w":-0.6,"t":240,"g":0},{"T":36,"w":-0.6,"t":255,"g":0},{"T":36,"w":-0.6,"t":270,"g":0},{"T":36,"w":-0.6,"t":285,"g":0},{"T":36,"w":-0.6,"t":300,"g":0},
{"T":36,"w":-0.8,"t":0,"g":0},{"T":36,"w":-0.8,"t":15,"g":0},{"T":36,"w":-0.8,"t":30,"g":0},{"T":36,"w":-0.8,"t":45,"g":0},{"T":36,"w":-0.8,"t":60,"g":0},{"T":36,"w":-0.8,"t":75,"g":0},{"T":36,"w":-0.8,"t":90,"g":0},{"T":36,"w":-0.8,"t":105,"g":0},{"T":36,"w":-0.8,"t":120,"g":0},{"T":36,"w":-0.8,"t":135,"g":0},{"T":36,"w":-0.8,"t":150,"g":0},{"T":36,"w":-0.8,"t":165,"g":0},{"T":36,"w":-0.8,"t":180,"g":0},{"T":36,"w":-0.8,"t":195,"g":0},{"T":36,"w":-0.8,"t":210,"g":0},{"T":36,"w":-0.8,"t":225,"g":0},{"T":36,"w":-0.8,"t":240,"g":0},{"T":36,"w":-0.8,"t":255,"g":0},{"T":36,"w":-0.8,"t":270,"g":0},{"T":36,"w":-0.8,"t":285,"g":0},{"T":36,"w":-0.8,"t":300,"g":0},
{"T":36,"w":-1,"t":0,"g":0},{"T":36,"w":-1,"t":15,"g":0},{"T":36,"w":-1,"t":30,"g":0},{"T":36,"w":-1,"t":45,"g":0},{"T":36,"w":-1,"t":60,"g":0},{"T":36,"w":-1,"t":75,"g":0},{"T":36,"w":-1,"t":90,"g":0},{"T":36,"w":-1,"t":105,"g":0},{"T":36,"w":-1,"t":120,"g":0},{"T":36,"w":-1,"t":135,"g":0},{"T":36,"w":-1,"t":150,"g":0},{"T":36,"w":-1,"t":165,"g":0},{"T":36,"w":-1,"t":180,"g":0},{"T":36,"w":-1,"t":195,"g":0},{"T":36,"w":-1,"t":210,"g":0},{"T":36,"w":-1,"t":225,"g":0},{"T":36,"w":-1,"t":240,"g":0},{"T":36,"w":-1,"t":255,"g":0},{"T":36,"w":-1,"t":270,"g":0},{"T":36,"w":-1,"t":285,"g":0},{"T":36,"w":-1,"t":300,"g":0},

{"T":36,"w":0,"t":0,"c":0},{"T":36,"w":0,"t":81,"c":0},{"T":36,"w":0,"t":85,"c":0.1},{"T":36,"w":0,"t":91,"c":0.22},{"T":36,"w":0,"t":100,"c":0.34},{"T":36,"w":0,"t":113,"c":0.44},{"T":36,"w":0,"t":131,"c":0.52},{"T":36,"w":0,"t":156,"c":0.58},{"T":36,"w":0,"t":190,"c":0.62},{"T":36,"w":0,"t":240,"c":0.65},{"T":36,"w":0,"t":300,"c":0.67},
{"T":36,"w":-0.2,"t":0,"c":0},{"T":36,"w":-0.2,"t":119,"c":0},{"T":36,"w":-0.2,"t":123,"c":0.07},{"T":36,"w":-0.2,"t":130,"c":0.16},{"T":36,"w":-0.2,"t":140,"c":0.26},{"T":36,"w":-0.2,"t":154,"c":0.35},{"T":36,"w":-0.2,"t":172,"c":0.42},{"T":36,"w":-0.2,"t":197,"c":0.48},{"T":36,"w":-0.2,"t":230,"c":0.51},{"T":36,"w":-0.2,"t":265,"c":0.53},{"T":36,"w":-0.2,"t":300,"c":0.54},
{"T":36,"w":-0.4,"t":0,"c":0},{"T":36,"w":-0.4,"t":213,"c":0},{"T":36,"w":-0.4,"t":217,"c":0.03},{"T":36,"w":-0.4,"t":224,"c":0.07},{"T":36,"w":-0.4,"t":234,"c":0.12},{"T":36,"w":-0.4,"t":248,"c":0.17},{"T":36,"w":-0.4,"t":266,"c":0.21},{"T":36,"w":-0.4,"t":285,"c":0.24},{"T":36,"w":-0.4,"t":300,"c":0.26}
]},
"transform": [
  {"lookup": "T", "from": {"data": {"values": [
    {"T":8,"r":1,"k":1},{"T":12,"r":1,"k":2},{"T":16,"r":1,"k":3},{"T":20,"r":1,"k":4},
    {"T":24,"r":2,"k":1},{"T":28,"r":2,"k":2},{"T":32,"r":2,"k":3},{"T":36,"r":2,"k":4}]}, "key": "T", "fields": ["r", "k"]}}
],
"facet": {
  "row": {"field": "r", "type": "ordinal", "title": ["کسر جوانه‌زنی", "Germination fraction"],
          "header": {"labelExpr": "''", "labelFontSize": 1, "labelColor": "white", "labelPadding": 0,
                     "titleOrient": "left", "titleFont": "DejaVu Sans", "titleFontSize": 20, "titleFontWeight": "normal", "titleColor": "black", "titleLineHeight": 52, "titlePadding": 12}},
  "column": {"field": "k", "type": "ordinal", "title": ["Imbibition time (h)", "زمان آبنوشی (ساعت)"],
          "header": {"labelExpr": "''", "labelFontSize": 1, "labelColor": "white", "labelPadding": 0,
                     "titleOrient": "bottom", "titleFont": "DejaVu Sans", "titleFontSize": 24, "titleFontWeight": "normal", "titleColor": "black", "titleLineHeight": 31, "titlePadding": 0}}
},
"bounds": "flush",
"spacing": {"row": 5, "column": 1},
"spec": {
  "width": 230,
  "height": 243,
  "layer": [
    {
      "transform": [{"filter": "datum.h != null"}],
      "mark": {"type": "rect", "fill": "#e3e3e3", "stroke": "black", "strokeWidth": 1.5},
      "encoding": {
        "x": {"datum": -33, "type": "quantitative", "title": null},
        "x2": {"datum": 478},
        "y": {"datum": 0.963, "type": "quantitative", "title": null},
        "y2": {"datum": 1.084}
      }
    },
    {
      "transform": [{"filter": "datum.h != null"}],
      "mark": {"type": "text", "font": "DejaVu Sans", "fontSize": 23, "color": "black", "align": "center", "baseline": "middle"},
      "encoding": {
        "x": {"datum": 222.5, "type": "quantitative", "title": null},
        "y": {"datum": 1.0235, "type": "quantitative", "title": null},
        "text": {"field": "h", "type": "nominal"}
      }
    },
    {
      "transform": [{"filter": "datum.g != null"}],
      "mark": {"type": "point", "filled": false, "strokeWidth": 1.3, "size": 60, "opacity": 1},
      "encoding": {
        "x": {"field": "t", "type": "quantitative", "title": null,
              "scale": {"domain": [-33, 478], "nice": false, "zero": false},
              "axis": {"values": [0, 200, 400], "format": "d", "title": null, "labelFontSize": 18, "tickSize": 9, "tickWidth": 1.3, "labelPadding": 6, "domain": false, "grid": false}},
        "y": {"field": "g", "type": "quantitative", "title": null,
              "scale": {"domain": [-0.047, 1.084], "nice": false, "zero": false},
              "axis": {"values": [0, 0.2, 0.4, 0.6, 0.8], "format": ".1f", "title": null, "labelFontSize": 19, "tickSize": 12, "tickWidth": 1.3, "labelPadding": 6, "domain": false, "grid": false}},
        "shape": {"field": "w", "type": "nominal", "title": "Water potential (MPa)",
              "scale": {"domain": [0, -0.2, -0.4, -0.6, -0.8, -1],
                        "range": ["circle", "M-1.15,0L1.15,0M0,-1.15L0,1.15", "M-0.9,-0.9L0.9,0.9M0.9,-0.9L-0.9,0.9", "M0,-1.15L1.1,0.85L-1.1,0.85Z", "square", "M-1.1,0L1.1,0M0,-1.1L0,1.1M-0.8,-0.8L0.8,0.8M0.8,-0.8L-0.8,0.8"]}},
        "color": {"field": "w", "type": "nominal", "title": "Water potential (MPa)",
              "scale": {"domain": [0, -0.2, -0.4, -0.6, -0.8, -1],
                        "range": ["#1f2a72", "#8b1a1a", "#145a55", "#111111", "#7030b0", "#6f8c1a"]}}
      }
    },
    {
      "transform": [{"filter": "datum.c != null"}],
      "mark": {"type": "line", "color": "black", "strokeWidth": 1.3, "interpolate": "monotone"},
      "encoding": {
        "x": {"field": "t", "type": "quantitative", "title": null},
        "y": {"field": "c", "type": "quantitative", "title": null},
        "detail": {"field": "w", "type": "nominal"}
      }
    }
  ]
},
"config": {
  "font": "DejaVu Sans",
  "view": {"stroke": "black", "strokeWidth": 1.5},
  "axis": {"labelFont": "DejaVu Sans", "titleFont": "DejaVu Sans", "labelColor": "black", "titleColor": "black", "tickColor": "black", "titleFontWeight": "normal"},
  "legend": {"orient": "bottom", "direction": "horizontal", "titleOrient": "left", "strokeColor": "black", "padding": 4, "offset": 17,
             "titleFont": "DejaVu Sans", "labelFont": "DejaVu Sans", "titleFontSize": 20, "labelFontSize": 20, "titleFontWeight": "normal", "titleLimit": 400,
             "titleColor": "black", "labelColor": "black", "symbolSize": 90, "symbolStrokeWidth": 1.4, "columnPadding": 33, "titlePadding": 36, "labelOffset": 8}
}
}
